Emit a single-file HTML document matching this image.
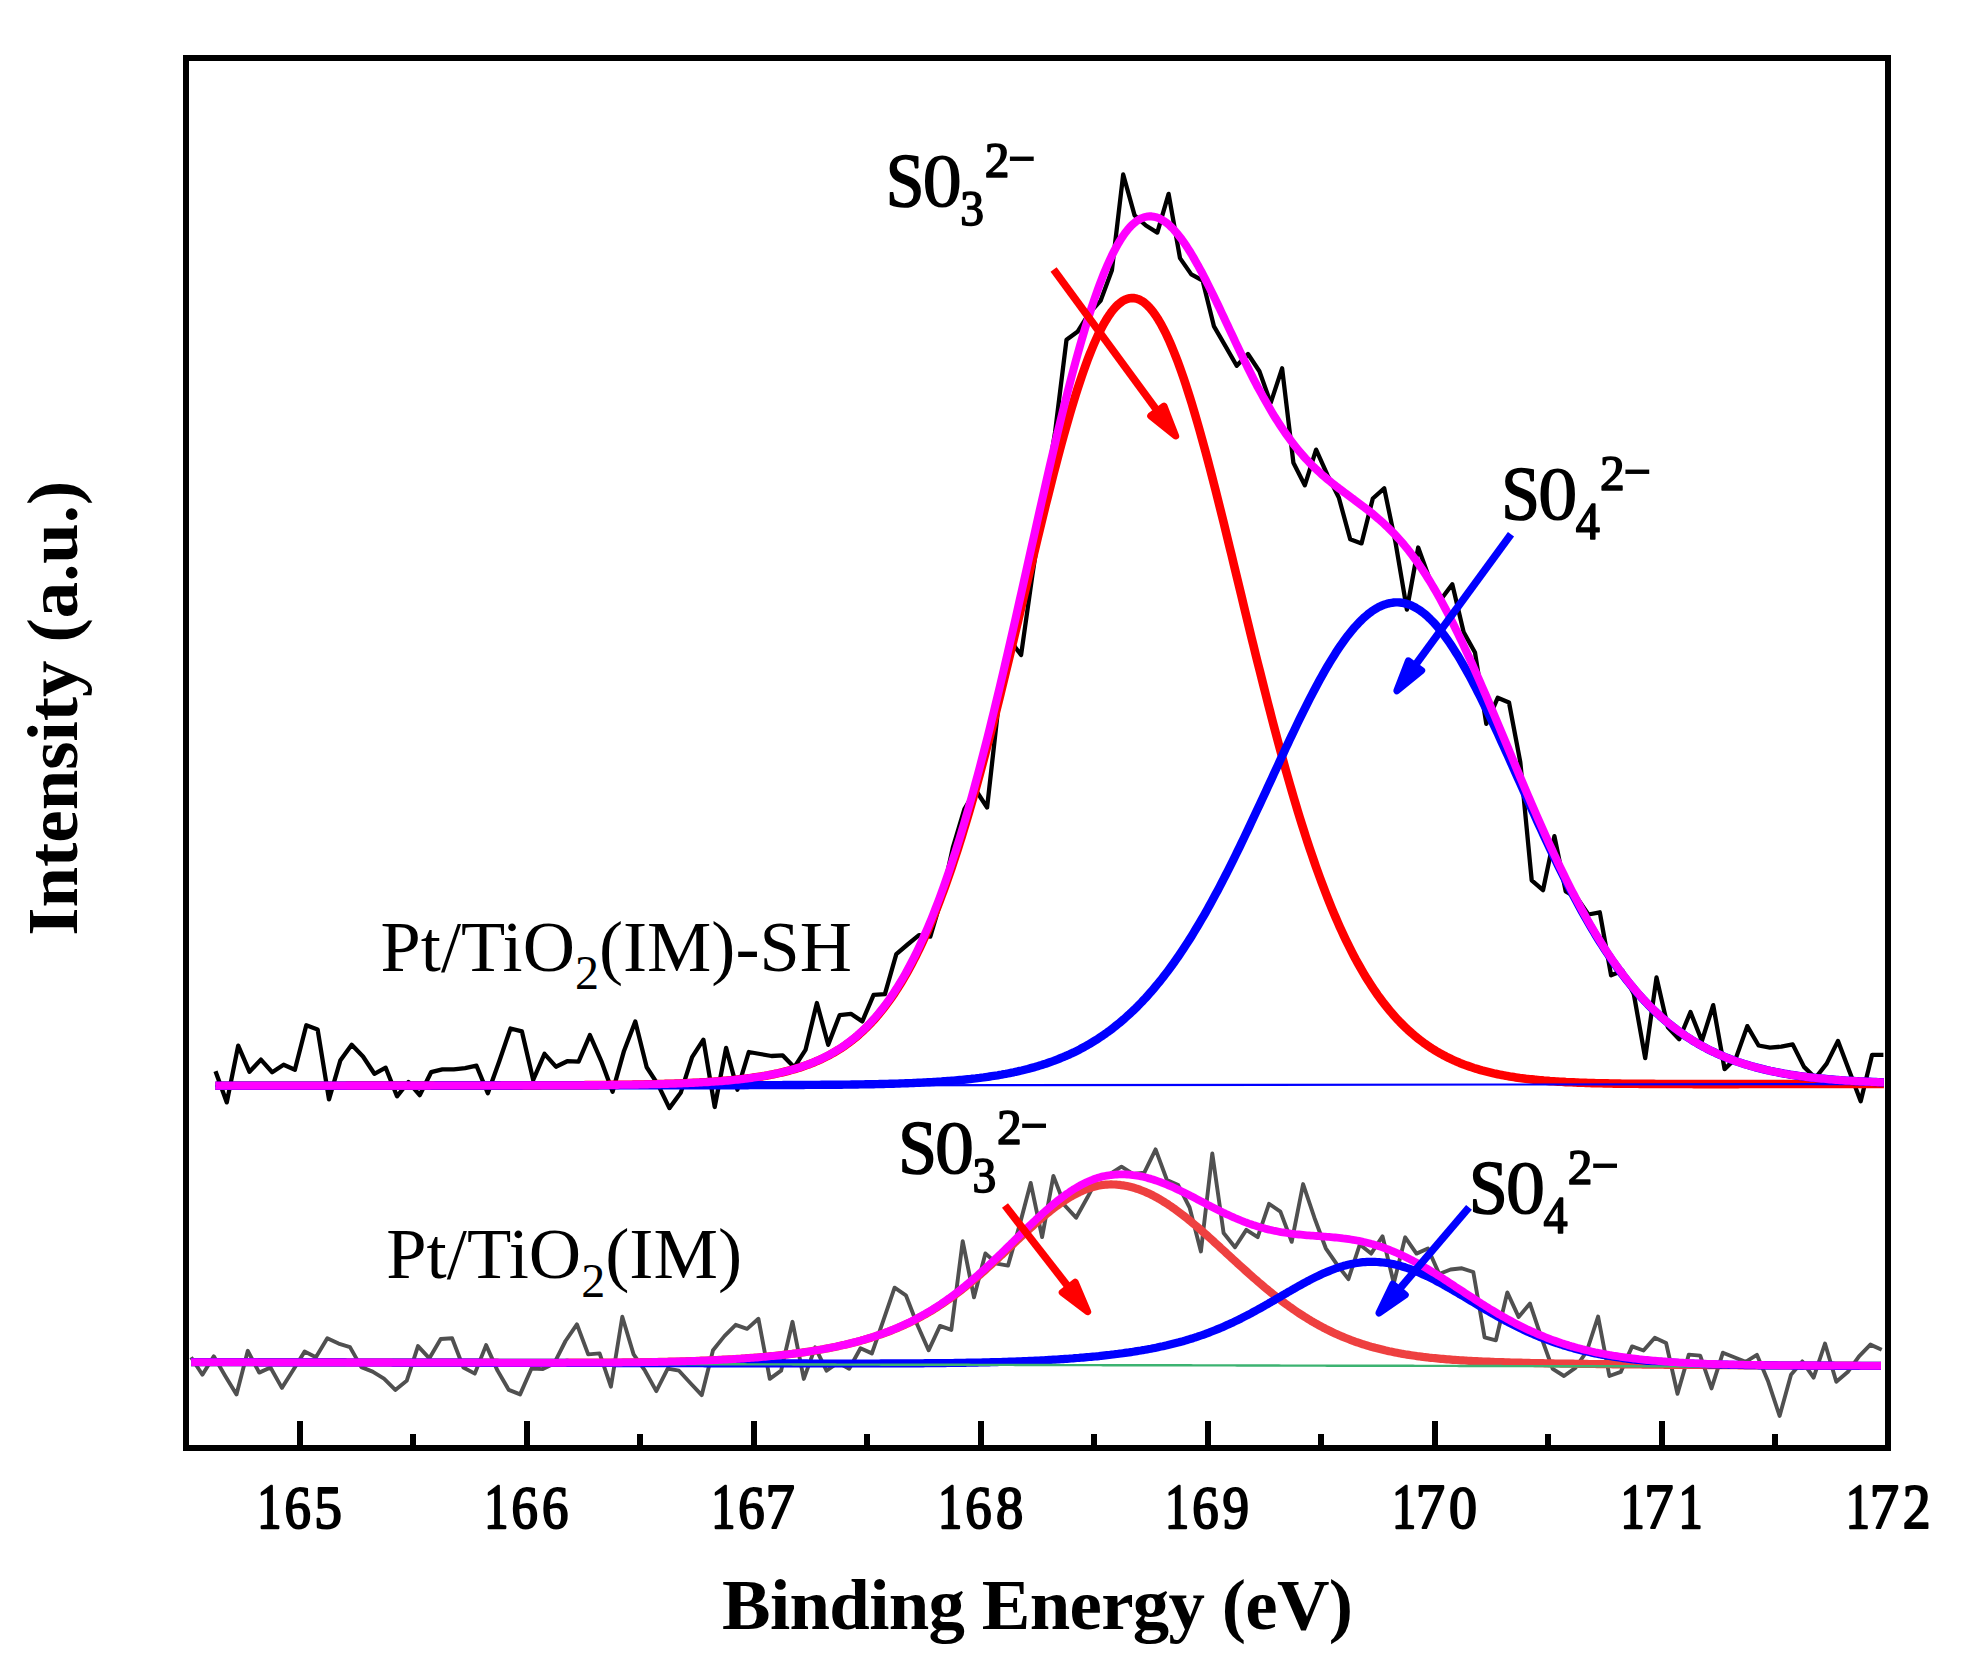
<!DOCTYPE html>
<html lang="en"><head><meta charset="utf-8"><title>XPS S 2p spectra</title>
<style>html,body{margin:0;padding:0;background:#fff}svg{display:block}</style></head>
<body>
<svg width="1961" height="1675" viewBox="0 0 1961 1675">
<rect width="1961" height="1675" fill="#fff"/>
<g fill="none" stroke-linejoin="round" stroke-linecap="butt">
<polyline points="215.5,1071.2 226.8,1102.4 238.2,1045.7 249.5,1071.8 260.9,1059.6 272.2,1072.2 283.6,1064.7 294.9,1069.8 306.3,1025.3 317.6,1029.4 329.0,1099.3 340.3,1060.6 351.7,1044.7 363.0,1056.5 374.4,1073.8 385.7,1067.7 397.0,1096.3 408.4,1082.0 419.7,1095.2 431.1,1072.2 442.4,1069.3 453.8,1069.3 465.1,1068.1 476.5,1065.7 487.8,1093.2 499.2,1061.6 510.5,1028.5 521.9,1031.4 533.2,1079.9 544.5,1053.8 555.9,1066.7 567.2,1061.2 578.6,1061.6 589.9,1035.1 601.3,1061.1 612.6,1091.7 624.0,1050.9 635.3,1021.4 646.7,1067.3 658.0,1084.6 669.4,1108.1 680.7,1092.8 692.1,1057.1 703.4,1039.7 714.7,1107.0 726.1,1047.9 737.4,1089.7 748.8,1052.0 760.1,1054.0 771.5,1056.0 782.8,1055.4 794.2,1067.3 805.5,1049.9 816.9,1003.0 828.2,1044.8 839.6,1015.2 850.9,1013.8 862.3,1021.4 873.6,994.8 884.9,994.2 896.3,954.1 907.6,944.5 919.0,935.1 930.3,936.7 941.7,898.0 953.0,847.0 964.4,809.0 975.7,790.0 987.1,807.5 998.4,706.6 1009.8,640.0 1021.1,655.0 1032.4,575.0 1043.8,500.0 1055.1,432.0 1066.5,339.7 1077.8,331.5 1089.2,313.2 1100.5,300.9 1111.9,270.3 1123.2,174.5 1134.6,215.3 1145.9,225.5 1157.3,232.6 1168.6,193.9 1180.0,258.1 1191.3,274.4 1202.6,280.5 1214.0,326.4 1225.3,345.8 1236.7,365.8 1248.0,354.0 1259.4,371.3 1270.7,402.9 1282.1,368.3 1293.4,462.8 1304.8,485.3 1316.1,449.6 1327.5,475.1 1338.8,497.5 1350.2,539.3 1361.5,543.4 1372.8,498.5 1384.2,488.3 1395.5,542.4 1406.9,609.7 1418.2,547.5 1429.6,579.1 1440.9,599.5 1452.3,584.2 1463.6,632.1 1475.0,652.5 1486.3,723.9 1497.7,697.8 1509.0,702.5 1520.3,762.1 1531.7,880.3 1543.0,890.2 1554.4,836.1 1565.7,891.3 1577.1,897.9 1588.4,914.5 1599.8,912.3 1611.1,975.3 1622.5,970.8 1633.8,994.0 1645.2,1058.1 1656.5,977.5 1667.9,1027.2 1679.2,1039.3 1690.5,1012.1 1701.9,1040.9 1713.2,1005.1 1724.6,1069.1 1735.9,1058.1 1747.3,1026.1 1758.6,1045.5 1770.0,1047.7 1781.3,1046.6 1792.7,1044.4 1804.0,1066.9 1815.4,1078.0 1826.7,1063.6 1838.0,1040.9 1849.4,1071.3 1860.7,1101.2 1872.1,1054.8 1883.4,1054.8" stroke="#000" stroke-width="4.3" stroke-linejoin="round"/>
<polyline points="215.5,1085.8 217.5,1085.8 219.5,1085.8 221.5,1085.8 223.5,1085.8 225.5,1085.8 227.5,1085.8 229.5,1085.8 231.5,1085.8 233.5,1085.8 235.5,1085.8 237.5,1085.8 239.5,1085.8 241.5,1085.8 243.5,1085.8 245.5,1085.8 247.5,1085.8 249.5,1085.8 251.5,1085.8 253.5,1085.8 255.5,1085.8 257.5,1085.8 259.5,1085.7 261.5,1085.7 263.5,1085.7 265.5,1085.7 267.5,1085.7 269.5,1085.7 271.5,1085.7 273.5,1085.7 275.5,1085.7 277.5,1085.7 279.5,1085.7 281.5,1085.7 283.5,1085.7 285.5,1085.7 287.5,1085.7 289.5,1085.7 291.5,1085.7 293.5,1085.7 295.5,1085.7 297.5,1085.7 299.5,1085.7 301.5,1085.7 303.5,1085.7 305.5,1085.7 307.5,1085.7 309.5,1085.7 311.5,1085.7 313.5,1085.7 315.5,1085.7 317.5,1085.7 319.5,1085.7 321.5,1085.7 323.5,1085.7 325.5,1085.7 327.5,1085.7 329.5,1085.7 331.5,1085.7 333.5,1085.7 335.5,1085.7 337.5,1085.7 339.5,1085.7 341.5,1085.7 343.5,1085.7 345.5,1085.7 347.5,1085.6 349.5,1085.6 351.5,1085.6 353.5,1085.6 355.5,1085.6 357.5,1085.6 359.5,1085.6 361.5,1085.6 363.5,1085.6 365.5,1085.6 367.5,1085.6 369.5,1085.6 371.5,1085.6 373.5,1085.6 375.5,1085.6 377.5,1085.6 379.5,1085.6 381.5,1085.6 383.5,1085.6 385.5,1085.6 387.5,1085.6 389.5,1085.6 391.5,1085.6 393.5,1085.6 395.5,1085.6 397.5,1085.6 399.5,1085.6 401.5,1085.6 403.5,1085.6 405.5,1085.6 407.5,1085.6 409.5,1085.6 411.5,1085.6 413.5,1085.6 415.5,1085.6 417.5,1085.6 419.5,1085.6 421.5,1085.6 423.5,1085.6 425.6,1085.6 427.6,1085.6 429.6,1085.6 431.6,1085.5 433.6,1085.5 435.6,1085.5 437.6,1085.5 439.6,1085.5 441.6,1085.5 443.6,1085.5 445.6,1085.5 447.6,1085.5 449.6,1085.5 451.6,1085.5 453.6,1085.5 455.6,1085.5 457.6,1085.5 459.6,1085.5 461.6,1085.5 463.6,1085.5 465.6,1085.5 467.6,1085.5 469.6,1085.5 471.6,1085.5 473.6,1085.5 475.6,1085.5 477.6,1085.5 479.6,1085.5 481.6,1085.5 483.6,1085.5 485.6,1085.5 487.6,1085.5 489.6,1085.5 491.6,1085.5 493.6,1085.5 495.6,1085.5 497.6,1085.5 499.6,1085.5 501.6,1085.4 503.6,1085.4 505.6,1085.4 507.6,1085.4 509.6,1085.4 511.6,1085.4 513.6,1085.4 515.6,1085.4 517.6,1085.4 519.6,1085.4 521.6,1085.4 523.6,1085.4 525.6,1085.4 527.6,1085.4 529.6,1085.4 531.6,1085.4 533.6,1085.4 535.6,1085.4 537.6,1085.4 539.6,1085.4 541.6,1085.3 543.6,1085.3 545.6,1085.3 547.6,1085.3 549.6,1085.3 551.6,1085.3 553.6,1085.3 555.6,1085.3 557.6,1085.3 559.6,1085.3 561.6,1085.3 563.6,1085.3 565.6,1085.3 567.6,1085.2 569.6,1085.2 571.6,1085.2 573.6,1085.2 575.6,1085.2 577.6,1085.2 579.6,1085.2 581.6,1085.2 583.6,1085.2 585.6,1085.1 587.6,1085.1 589.6,1085.1 591.6,1085.1 593.6,1085.1 595.6,1085.1 597.6,1085.1 599.6,1085.0 601.6,1085.0 603.6,1085.0 605.6,1085.0 607.6,1085.0 609.6,1084.9 611.6,1084.9 613.6,1084.9 615.6,1084.9 617.6,1084.9 619.6,1084.8 621.6,1084.8 623.6,1084.8 625.6,1084.8 627.6,1084.7 629.6,1084.7 631.6,1084.7 633.6,1084.6 635.6,1084.6 637.6,1084.6 639.6,1084.5 641.6,1084.5 643.6,1084.5 645.6,1084.4 647.6,1084.4 649.6,1084.3 651.6,1084.3 653.6,1084.2 655.6,1084.2 657.6,1084.1 659.6,1084.1 661.6,1084.0 663.6,1084.0 665.6,1083.9 667.6,1083.9 669.6,1083.8 671.6,1083.7 673.6,1083.7 675.6,1083.6 677.6,1083.5 679.6,1083.5 681.6,1083.4 683.6,1083.3 685.6,1083.2 687.6,1083.1 689.6,1083.0 691.6,1083.0 693.6,1082.9 695.6,1082.8 697.6,1082.7 699.6,1082.6 701.6,1082.4 703.6,1082.3 705.6,1082.2 707.6,1082.1 709.6,1082.0 711.6,1081.8 713.6,1081.7 715.6,1081.5 717.6,1081.4 719.6,1081.2 721.6,1081.1 723.6,1080.9 725.6,1080.8 727.6,1080.6 729.6,1080.4 731.6,1080.2 733.6,1080.0 735.6,1079.8 737.6,1079.6 739.6,1079.4 741.6,1079.2 743.6,1078.9 745.6,1078.7 747.6,1078.4 749.6,1078.2 751.6,1077.9 753.6,1077.6 755.6,1077.3 757.6,1077.0 759.6,1076.7 761.6,1076.4 763.6,1076.1 765.6,1075.7 767.6,1075.4 769.6,1075.0 771.6,1074.6 773.6,1074.2 775.6,1073.8 777.6,1073.4 779.6,1072.9 781.6,1072.5 783.6,1072.0 785.6,1071.5 787.6,1071.0 789.6,1070.5 791.6,1069.9 793.6,1069.4 795.6,1068.8 797.6,1068.2 799.6,1067.6 801.6,1066.9 803.6,1066.2 805.6,1065.5 807.6,1064.8 809.6,1064.1 811.6,1063.3 813.6,1062.5 815.6,1061.6 817.6,1060.8 819.6,1059.9 821.6,1059.0 823.6,1058.0 825.6,1057.0 827.6,1056.0 829.6,1054.9 831.6,1053.8 833.6,1052.7 835.6,1051.5 837.6,1050.3 839.6,1049.1 841.7,1047.8 843.7,1046.4 845.7,1045.0 847.7,1043.6 849.7,1042.1 851.7,1040.6 853.7,1039.0 855.7,1037.4 857.7,1035.7 859.7,1033.9 861.7,1032.1 863.7,1030.3 865.7,1028.3 867.7,1026.4 869.7,1024.3 871.7,1022.2 873.7,1020.0 875.7,1017.8 877.7,1015.5 879.7,1013.1 881.7,1010.6 883.7,1008.1 885.7,1005.5 887.7,1002.8 889.7,1000.0 891.7,997.2 893.7,994.3 895.7,991.2 897.7,988.1 899.7,985.0 901.7,981.7 903.7,978.3 905.7,974.9 907.7,971.3 909.7,967.7 911.7,963.9 913.7,960.1 915.7,956.2 917.7,952.1 919.7,948.0 921.7,943.8 923.7,939.4 925.7,935.0 927.7,930.5 929.7,925.8 931.7,921.0 933.7,916.2 935.7,911.2 937.7,906.1 939.7,900.9 941.7,895.6 943.7,890.2 945.7,884.7 947.7,879.1 949.7,873.3 951.7,867.5 953.7,861.5 955.7,855.4 957.7,849.3 959.7,843.0 961.7,836.6 963.7,830.1 965.7,823.5 967.7,816.8 969.7,810.0 971.7,803.1 973.7,796.1 975.7,789.0 977.7,781.8 979.7,774.5 981.7,767.1 983.7,759.7 985.7,752.1 987.7,744.5 989.7,736.8 991.7,729.0 993.7,721.1 995.7,713.2 997.7,705.2 999.7,697.1 1001.7,689.0 1003.7,680.8 1005.7,672.6 1007.7,664.3 1009.7,656.0 1011.7,647.6 1013.7,639.2 1015.7,630.8 1017.7,622.4 1019.7,613.9 1021.7,605.5 1023.7,597.0 1025.7,588.5 1027.7,580.1 1029.7,571.6 1031.7,563.2 1033.7,554.8 1035.7,546.4 1037.7,538.1 1039.7,529.7 1041.7,521.5 1043.7,513.3 1045.7,505.1 1047.7,497.1 1049.7,489.1 1051.7,481.1 1053.7,473.3 1055.7,465.6 1057.7,457.9 1059.7,450.4 1061.7,443.0 1063.7,435.7 1065.7,428.5 1067.7,421.5 1069.7,414.5 1071.7,407.8 1073.7,401.2 1075.7,394.7 1077.7,388.4 1079.7,382.3 1081.7,376.4 1083.7,370.6 1085.7,365.0 1087.7,359.6 1089.7,354.4 1091.7,349.5 1093.7,344.7 1095.7,340.1 1097.7,335.7 1099.7,331.6 1101.7,327.7 1103.7,324.0 1105.7,320.6 1107.7,317.4 1109.7,314.4 1111.7,311.6 1113.7,309.1 1115.7,306.9 1117.7,304.9 1119.7,303.2 1121.7,301.7 1123.7,300.4 1125.7,299.5 1127.7,298.7 1129.7,298.3 1131.7,298.1 1133.7,298.1 1135.7,298.4 1137.7,299.0 1139.7,299.8 1141.7,300.9 1143.7,302.2 1145.7,303.8 1147.7,305.7 1149.7,307.8 1151.7,310.1 1153.7,312.7 1155.7,315.5 1157.7,318.6 1159.7,321.9 1161.7,325.4 1163.7,329.2 1165.7,333.2 1167.7,337.4 1169.7,341.8 1171.7,346.5 1173.7,351.3 1175.7,356.3 1177.7,361.6 1179.7,367.0 1181.7,372.6 1183.7,378.4 1185.7,384.4 1187.7,390.6 1189.7,396.9 1191.7,403.3 1193.7,410.0 1195.7,416.7 1197.7,423.6 1199.7,430.6 1201.7,437.8 1203.7,445.1 1205.7,452.4 1207.7,459.9 1209.7,467.5 1211.7,475.2 1213.7,483.0 1215.7,490.8 1217.7,498.7 1219.7,506.7 1221.7,514.8 1223.7,522.8 1225.7,531.0 1227.7,539.2 1229.7,547.4 1231.7,555.6 1233.7,563.9 1235.7,572.2 1237.7,580.5 1239.7,588.8 1241.7,597.1 1243.7,605.4 1245.7,613.7 1247.7,621.9 1249.7,630.2 1251.7,638.4 1253.7,646.6 1255.7,654.7 1257.7,662.8 1259.8,670.9 1261.8,678.9 1263.8,686.9 1265.8,694.8 1267.8,702.7 1269.8,710.4 1271.8,718.2 1273.8,725.8 1275.8,733.4 1277.8,740.9 1279.8,748.3 1281.8,755.6 1283.8,762.9 1285.8,770.1 1287.8,777.2 1289.8,784.1 1291.8,791.0 1293.8,797.9 1295.8,804.6 1297.8,811.2 1299.8,817.7 1301.8,824.1 1303.8,830.4 1305.8,836.7 1307.8,842.8 1309.8,848.8 1311.8,854.7 1313.8,860.5 1315.8,866.3 1317.8,871.9 1319.8,877.4 1321.8,882.8 1323.8,888.1 1325.8,893.3 1327.8,898.4 1329.8,903.4 1331.8,908.3 1333.8,913.1 1335.8,917.8 1337.8,922.4 1339.8,926.9 1341.8,931.3 1343.8,935.6 1345.8,939.8 1347.8,943.9 1349.8,947.9 1351.8,951.9 1353.8,955.7 1355.8,959.5 1357.8,963.1 1359.8,966.7 1361.8,970.2 1363.8,973.6 1365.8,976.9 1367.8,980.1 1369.8,983.3 1371.8,986.4 1373.8,989.4 1375.8,992.3 1377.8,995.2 1379.8,997.9 1381.8,1000.6 1383.8,1003.3 1385.8,1005.8 1387.8,1008.3 1389.8,1010.7 1391.8,1013.1 1393.8,1015.4 1395.8,1017.6 1397.8,1019.8 1399.8,1021.9 1401.8,1023.9 1403.8,1025.9 1405.8,1027.8 1407.8,1029.7 1409.8,1031.5 1411.8,1033.3 1413.8,1035.0 1415.8,1036.7 1417.8,1038.3 1419.8,1039.9 1421.8,1041.4 1423.8,1042.9 1425.8,1044.3 1427.8,1045.7 1429.8,1047.1 1431.8,1048.4 1433.8,1049.6 1435.8,1050.9 1437.8,1052.1 1439.8,1053.2 1441.8,1054.3 1443.8,1055.4 1445.8,1056.4 1447.8,1057.5 1449.8,1058.4 1451.8,1059.4 1453.8,1060.3 1455.8,1061.2 1457.8,1062.0 1459.8,1062.9 1461.8,1063.7 1463.8,1064.5 1465.8,1065.2 1467.8,1065.9 1469.8,1066.6 1471.8,1067.3 1473.8,1068.0 1475.8,1068.6 1477.8,1069.2 1479.8,1069.8 1481.8,1070.4 1483.8,1070.9 1485.8,1071.4 1487.8,1071.9 1489.8,1072.4 1491.8,1072.9 1493.8,1073.4 1495.8,1073.8 1497.8,1074.2 1499.8,1074.6 1501.8,1075.0 1503.8,1075.4 1505.8,1075.8 1507.8,1076.1 1509.8,1076.5 1511.8,1076.8 1513.8,1077.1 1515.8,1077.4 1517.8,1077.7 1519.8,1078.0 1521.8,1078.2 1523.8,1078.5 1525.8,1078.8 1527.8,1079.0 1529.8,1079.2 1531.8,1079.4 1533.8,1079.6 1535.8,1079.9 1537.8,1080.0 1539.8,1080.2 1541.8,1080.4 1543.8,1080.6 1545.8,1080.7 1547.8,1080.9 1549.8,1081.1 1551.8,1081.2 1553.8,1081.3 1555.8,1081.5 1557.8,1081.6 1559.8,1081.7 1561.8,1081.8 1563.8,1081.9 1565.8,1082.1 1567.8,1082.2 1569.8,1082.3 1571.8,1082.3 1573.8,1082.4 1575.8,1082.5 1577.8,1082.6 1579.8,1082.7 1581.8,1082.8 1583.8,1082.8 1585.8,1082.9 1587.8,1083.0 1589.8,1083.0 1591.8,1083.1 1593.8,1083.1 1595.8,1083.2 1597.8,1083.2 1599.8,1083.3 1601.8,1083.3 1603.8,1083.4 1605.8,1083.4 1607.8,1083.4 1609.8,1083.5 1611.8,1083.5 1613.8,1083.6 1615.8,1083.6 1617.8,1083.6 1619.8,1083.6 1621.8,1083.7 1623.8,1083.7 1625.8,1083.7 1627.8,1083.7 1629.8,1083.8 1631.8,1083.8 1633.8,1083.8 1635.8,1083.8 1637.8,1083.8 1639.8,1083.9 1641.8,1083.9 1643.8,1083.9 1645.8,1083.9 1647.8,1083.9 1649.8,1083.9 1651.8,1083.9 1653.8,1083.9 1655.8,1084.0 1657.8,1084.0 1659.8,1084.0 1661.8,1084.0 1663.8,1084.0 1665.8,1084.0 1667.8,1084.0 1669.8,1084.0 1671.8,1084.0 1673.8,1084.0 1675.9,1084.0 1677.9,1084.0 1679.9,1084.0 1681.9,1084.0 1683.9,1084.0 1685.9,1084.0 1687.9,1084.0 1689.9,1084.0 1691.9,1084.0 1693.9,1084.1 1695.9,1084.1 1697.9,1084.1 1699.9,1084.1 1701.9,1084.1 1703.9,1084.1 1705.9,1084.1 1707.9,1084.1 1709.9,1084.1 1711.9,1084.1 1713.9,1084.1 1715.9,1084.1 1717.9,1084.1 1719.9,1084.1 1721.9,1084.1 1723.9,1084.1 1725.9,1084.1 1727.9,1084.1 1729.9,1084.1 1731.9,1084.1 1733.9,1084.1 1735.9,1084.1 1737.9,1084.1 1739.9,1084.0 1741.9,1084.0 1743.9,1084.0 1745.9,1084.0 1747.9,1084.0 1749.9,1084.0 1751.9,1084.0 1753.9,1084.0 1755.9,1084.0 1757.9,1084.0 1759.9,1084.0 1761.9,1084.0 1763.9,1084.0 1765.9,1084.0 1767.9,1084.0 1769.9,1084.0 1771.9,1084.0 1773.9,1084.0 1775.9,1084.0 1777.9,1084.0 1779.9,1084.0 1781.9,1084.0 1783.9,1084.0 1785.9,1084.0 1787.9,1084.0 1789.9,1084.0 1791.9,1084.0 1793.9,1084.0 1795.9,1084.0 1797.9,1084.0 1799.9,1084.0 1801.9,1084.0 1803.9,1084.0 1805.9,1084.0 1807.9,1084.0 1809.9,1084.0 1811.9,1084.0 1813.9,1084.0 1815.9,1084.0 1817.9,1084.0 1819.9,1084.0 1821.9,1084.0 1823.9,1084.0 1825.9,1084.0 1827.9,1084.0 1829.9,1084.0 1831.9,1084.0 1833.9,1084.0 1835.9,1084.0 1837.9,1084.0 1839.9,1083.9 1841.9,1083.9 1843.9,1083.9 1845.9,1083.9 1847.9,1083.9 1849.9,1083.9 1851.9,1083.9 1853.9,1083.9 1855.9,1083.9 1857.9,1083.9 1859.9,1083.9 1861.9,1083.9 1863.9,1083.9 1865.9,1083.9 1867.9,1083.9 1869.9,1083.9 1871.9,1083.9 1873.9,1083.9 1875.9,1083.9 1877.9,1083.9 1879.9,1083.9 1881.9,1083.9 1883.9,1083.9" stroke="#f00" stroke-width="8.6"/>
<polyline points="215.5,1085.8 217.5,1085.8 219.5,1085.8 221.5,1085.8 223.5,1085.8 225.5,1085.8 227.5,1085.8 229.5,1085.8 231.5,1085.8 233.5,1085.8 235.5,1085.8 237.5,1085.8 239.5,1085.8 241.5,1085.8 243.5,1085.8 245.5,1085.8 247.5,1085.8 249.5,1085.8 251.5,1085.8 253.5,1085.8 255.5,1085.8 257.5,1085.8 259.5,1085.7 261.5,1085.7 263.5,1085.7 265.5,1085.7 267.5,1085.7 269.5,1085.7 271.5,1085.7 273.5,1085.7 275.5,1085.7 277.5,1085.7 279.5,1085.7 281.5,1085.7 283.5,1085.7 285.5,1085.7 287.5,1085.7 289.5,1085.7 291.5,1085.7 293.5,1085.7 295.5,1085.7 297.5,1085.7 299.5,1085.7 301.5,1085.7 303.5,1085.7 305.5,1085.7 307.5,1085.7 309.5,1085.7 311.5,1085.7 313.5,1085.7 315.5,1085.7 317.5,1085.7 319.5,1085.7 321.5,1085.7 323.5,1085.7 325.5,1085.7 327.5,1085.7 329.5,1085.7 331.5,1085.7 333.5,1085.7 335.5,1085.7 337.5,1085.7 339.5,1085.7 341.5,1085.7 343.5,1085.7 345.5,1085.7 347.5,1085.6 349.5,1085.6 351.5,1085.6 353.5,1085.6 355.5,1085.6 357.5,1085.6 359.5,1085.6 361.5,1085.6 363.5,1085.6 365.5,1085.6 367.5,1085.6 369.5,1085.6 371.5,1085.6 373.5,1085.6 375.5,1085.6 377.5,1085.6 379.5,1085.6 381.5,1085.6 383.5,1085.6 385.5,1085.6 387.5,1085.6 389.5,1085.6 391.5,1085.6 393.5,1085.6 395.5,1085.6 397.5,1085.6 399.5,1085.6 401.5,1085.6 403.5,1085.6 405.5,1085.6 407.5,1085.6 409.5,1085.6 411.5,1085.6 413.5,1085.6 415.5,1085.6 417.5,1085.6 419.5,1085.6 421.5,1085.6 423.5,1085.6 425.6,1085.6 427.6,1085.6 429.6,1085.6 431.6,1085.6 433.6,1085.6 435.6,1085.5 437.6,1085.5 439.6,1085.5 441.6,1085.5 443.6,1085.5 445.6,1085.5 447.6,1085.5 449.6,1085.5 451.6,1085.5 453.6,1085.5 455.6,1085.5 457.6,1085.5 459.6,1085.5 461.6,1085.5 463.6,1085.5 465.6,1085.5 467.6,1085.5 469.6,1085.5 471.6,1085.5 473.6,1085.5 475.6,1085.5 477.6,1085.5 479.6,1085.5 481.6,1085.5 483.6,1085.5 485.6,1085.5 487.6,1085.5 489.6,1085.5 491.6,1085.5 493.6,1085.5 495.6,1085.5 497.6,1085.5 499.6,1085.5 501.6,1085.5 503.6,1085.5 505.6,1085.5 507.6,1085.5 509.6,1085.5 511.6,1085.5 513.6,1085.5 515.6,1085.5 517.6,1085.5 519.6,1085.5 521.6,1085.5 523.6,1085.4 525.6,1085.4 527.6,1085.4 529.6,1085.4 531.6,1085.4 533.6,1085.4 535.6,1085.4 537.6,1085.4 539.6,1085.4 541.6,1085.4 543.6,1085.4 545.6,1085.4 547.6,1085.4 549.6,1085.4 551.6,1085.4 553.6,1085.4 555.6,1085.4 557.6,1085.4 559.6,1085.4 561.6,1085.4 563.6,1085.4 565.6,1085.4 567.6,1085.4 569.6,1085.4 571.6,1085.4 573.6,1085.4 575.6,1085.4 577.6,1085.4 579.6,1085.4 581.6,1085.4 583.6,1085.4 585.6,1085.4 587.6,1085.4 589.6,1085.4 591.6,1085.4 593.6,1085.4 595.6,1085.4 597.6,1085.4 599.6,1085.4 601.6,1085.4 603.6,1085.4 605.6,1085.4 607.6,1085.4 609.6,1085.4 611.6,1085.3 613.6,1085.3 615.6,1085.3 617.6,1085.3 619.6,1085.3 621.6,1085.3 623.6,1085.3 625.6,1085.3 627.6,1085.3 629.6,1085.3 631.6,1085.3 633.6,1085.3 635.6,1085.3 637.6,1085.3 639.6,1085.3 641.6,1085.3 643.6,1085.3 645.6,1085.3 647.6,1085.3 649.6,1085.3 651.6,1085.3 653.6,1085.3 655.6,1085.3 657.6,1085.3 659.6,1085.3 661.6,1085.3 663.6,1085.3 665.6,1085.3 667.6,1085.3 669.6,1085.3 671.6,1085.3 673.6,1085.3 675.6,1085.3 677.6,1085.3 679.6,1085.3 681.6,1085.3 683.6,1085.3 685.6,1085.3 687.6,1085.3 689.6,1085.3 691.6,1085.2 693.6,1085.2 695.6,1085.2 697.6,1085.2 699.6,1085.2 701.6,1085.2 703.6,1085.2 705.6,1085.2 707.6,1085.2 709.6,1085.2 711.6,1085.2 713.6,1085.2 715.6,1085.2 717.6,1085.2 719.6,1085.2 721.6,1085.2 723.6,1085.2 725.6,1085.2 727.6,1085.2 729.6,1085.2 731.6,1085.2 733.6,1085.2 735.6,1085.2 737.6,1085.2 739.6,1085.2 741.6,1085.2 743.6,1085.2 745.6,1085.2 747.6,1085.2 749.6,1085.1 751.6,1085.1 753.6,1085.1 755.6,1085.1 757.6,1085.1 759.6,1085.1 761.6,1085.1 763.6,1085.1 765.6,1085.1 767.6,1085.1 769.6,1085.1 771.6,1085.1 773.6,1085.1 775.6,1085.1 777.6,1085.1 779.6,1085.1 781.6,1085.1 783.6,1085.0 785.6,1085.0 787.6,1085.0 789.6,1085.0 791.6,1085.0 793.6,1085.0 795.6,1085.0 797.6,1085.0 799.6,1085.0 801.6,1085.0 803.6,1085.0 805.6,1084.9 807.6,1084.9 809.6,1084.9 811.6,1084.9 813.6,1084.9 815.6,1084.9 817.6,1084.9 819.6,1084.9 821.6,1084.8 823.6,1084.8 825.6,1084.8 827.6,1084.8 829.6,1084.8 831.6,1084.8 833.6,1084.7 835.6,1084.7 837.6,1084.7 839.6,1084.7 841.7,1084.7 843.7,1084.6 845.7,1084.6 847.7,1084.6 849.7,1084.6 851.7,1084.5 853.7,1084.5 855.7,1084.5 857.7,1084.5 859.7,1084.4 861.7,1084.4 863.7,1084.4 865.7,1084.3 867.7,1084.3 869.7,1084.3 871.7,1084.2 873.7,1084.2 875.7,1084.1 877.7,1084.1 879.7,1084.0 881.7,1084.0 883.7,1084.0 885.7,1083.9 887.7,1083.9 889.7,1083.8 891.7,1083.7 893.7,1083.7 895.7,1083.6 897.7,1083.6 899.7,1083.5 901.7,1083.4 903.7,1083.4 905.7,1083.3 907.7,1083.2 909.7,1083.1 911.7,1083.1 913.7,1083.0 915.7,1082.9 917.7,1082.8 919.7,1082.7 921.7,1082.6 923.7,1082.5 925.7,1082.4 927.7,1082.3 929.7,1082.2 931.7,1082.1 933.7,1082.0 935.7,1081.9 937.7,1081.7 939.7,1081.6 941.7,1081.5 943.7,1081.3 945.7,1081.2 947.7,1081.0 949.7,1080.9 951.7,1080.7 953.7,1080.6 955.7,1080.4 957.7,1080.2 959.7,1080.0 961.7,1079.9 963.7,1079.7 965.7,1079.5 967.7,1079.3 969.7,1079.1 971.7,1078.8 973.7,1078.6 975.7,1078.4 977.7,1078.1 979.7,1077.9 981.7,1077.6 983.7,1077.4 985.7,1077.1 987.7,1076.8 989.7,1076.5 991.7,1076.2 993.7,1075.9 995.7,1075.6 997.7,1075.3 999.7,1074.9 1001.7,1074.6 1003.7,1074.2 1005.7,1073.9 1007.7,1073.5 1009.7,1073.1 1011.7,1072.7 1013.7,1072.3 1015.7,1071.8 1017.7,1071.4 1019.7,1070.9 1021.7,1070.5 1023.7,1070.0 1025.7,1069.5 1027.7,1069.0 1029.7,1068.4 1031.7,1067.9 1033.7,1067.4 1035.7,1066.8 1037.7,1066.2 1039.7,1065.6 1041.7,1065.0 1043.7,1064.3 1045.7,1063.7 1047.7,1063.0 1049.7,1062.3 1051.7,1061.6 1053.7,1060.9 1055.7,1060.1 1057.7,1059.3 1059.7,1058.5 1061.7,1057.7 1063.7,1056.9 1065.7,1056.0 1067.7,1055.2 1069.7,1054.3 1071.7,1053.3 1073.7,1052.4 1075.7,1051.4 1077.7,1050.4 1079.7,1049.4 1081.7,1048.3 1083.7,1047.2 1085.7,1046.1 1087.7,1045.0 1089.7,1043.8 1091.7,1042.6 1093.7,1041.4 1095.7,1040.2 1097.7,1038.9 1099.7,1037.6 1101.7,1036.3 1103.7,1034.9 1105.7,1033.5 1107.7,1032.0 1109.7,1030.6 1111.7,1029.1 1113.7,1027.5 1115.7,1025.9 1117.7,1024.3 1119.7,1022.7 1121.7,1021.0 1123.7,1019.3 1125.7,1017.5 1127.7,1015.7 1129.7,1013.9 1131.7,1012.0 1133.7,1010.1 1135.7,1008.2 1137.7,1006.2 1139.7,1004.1 1141.7,1002.1 1143.7,999.9 1145.7,997.8 1147.7,995.6 1149.7,993.3 1151.7,991.1 1153.7,988.7 1155.7,986.3 1157.7,983.9 1159.7,981.5 1161.7,979.0 1163.7,976.4 1165.7,973.8 1167.7,971.2 1169.7,968.5 1171.7,965.7 1173.7,963.0 1175.7,960.1 1177.7,957.3 1179.7,954.3 1181.7,951.4 1183.7,948.4 1185.7,945.3 1187.7,942.2 1189.7,939.1 1191.7,935.9 1193.7,932.6 1195.7,929.3 1197.7,926.0 1199.7,922.6 1201.7,919.2 1203.7,915.8 1205.7,912.3 1207.7,908.7 1209.7,905.1 1211.7,901.5 1213.7,897.8 1215.7,894.1 1217.7,890.4 1219.7,886.6 1221.7,882.8 1223.7,878.9 1225.7,875.0 1227.7,871.1 1229.7,867.1 1231.7,863.1 1233.7,859.1 1235.7,855.0 1237.7,850.9 1239.7,846.8 1241.7,842.7 1243.7,838.5 1245.7,834.3 1247.7,830.1 1249.7,825.9 1251.7,821.6 1253.7,817.3 1255.7,813.0 1257.7,808.7 1259.8,804.4 1261.8,800.1 1263.8,795.8 1265.8,791.4 1267.8,787.1 1269.8,782.7 1271.8,778.4 1273.8,774.1 1275.8,769.7 1277.8,765.4 1279.8,761.1 1281.8,756.7 1283.8,752.4 1285.8,748.1 1287.8,743.9 1289.8,739.6 1291.8,735.4 1293.8,731.2 1295.8,727.0 1297.8,722.8 1299.8,718.7 1301.8,714.6 1303.8,710.6 1305.8,706.6 1307.8,702.6 1309.8,698.7 1311.8,694.8 1313.8,691.0 1315.8,687.2 1317.8,683.5 1319.8,679.8 1321.8,676.2 1323.8,672.6 1325.8,669.2 1327.8,665.7 1329.8,662.4 1331.8,659.1 1333.8,655.9 1335.8,652.7 1337.8,649.7 1339.8,646.7 1341.8,643.8 1343.8,641.0 1345.8,638.3 1347.8,635.6 1349.8,633.1 1351.8,630.6 1353.8,628.2 1355.8,626.0 1357.8,623.8 1359.8,621.7 1361.8,619.7 1363.8,617.8 1365.8,616.1 1367.8,614.4 1369.8,612.8 1371.8,611.3 1373.8,610.0 1375.8,608.7 1377.8,607.6 1379.8,606.6 1381.8,605.7 1383.8,604.8 1385.8,604.2 1387.8,603.6 1389.8,603.1 1391.8,602.8 1393.8,602.5 1395.8,602.4 1397.8,602.4 1399.8,602.5 1401.8,602.7 1403.8,603.1 1405.8,603.6 1407.8,604.2 1409.8,604.9 1411.8,605.7 1413.8,606.7 1415.8,607.8 1417.8,609.0 1419.8,610.3 1421.8,611.7 1423.8,613.3 1425.8,614.9 1427.8,616.7 1429.8,618.6 1431.8,620.6 1433.8,622.7 1435.8,624.9 1437.8,627.2 1439.8,629.6 1441.8,632.1 1443.8,634.7 1445.8,637.5 1447.8,640.3 1449.8,643.1 1451.8,646.1 1453.8,649.2 1455.8,652.4 1457.8,655.6 1459.8,658.9 1461.8,662.3 1463.8,665.8 1465.8,669.3 1467.8,672.9 1469.8,676.6 1471.8,680.4 1473.8,684.2 1475.8,688.0 1477.8,692.0 1479.8,695.9 1481.8,700.0 1483.8,704.0 1485.8,708.1 1487.8,712.3 1489.8,716.5 1491.8,720.7 1493.8,725.0 1495.8,729.3 1497.8,733.6 1499.8,738.0 1501.8,742.4 1503.8,746.8 1505.8,751.2 1507.8,755.6 1509.8,760.1 1511.8,764.5 1513.8,769.0 1515.8,773.5 1517.8,777.9 1519.8,782.4 1521.8,786.9 1523.8,791.4 1525.8,795.8 1527.8,800.3 1529.8,804.7 1531.8,809.2 1533.8,813.6 1535.8,818.0 1537.8,822.4 1539.8,826.7 1541.8,831.1 1543.8,835.4 1545.8,839.7 1547.8,843.9 1549.8,848.2 1551.8,852.4 1553.8,856.6 1555.8,860.7 1557.8,864.8 1559.8,868.9 1561.8,872.9 1563.8,876.9 1565.8,880.9 1567.8,884.8 1569.8,888.7 1571.8,892.6 1573.8,896.4 1575.8,900.1 1577.8,903.8 1579.8,907.5 1581.8,911.1 1583.8,914.7 1585.8,918.2 1587.8,921.7 1589.8,925.2 1591.8,928.6 1593.8,931.9 1595.8,935.2 1597.8,938.5 1599.8,941.7 1601.8,944.8 1603.8,947.9 1605.8,951.0 1607.8,954.0 1609.8,956.9 1611.8,959.9 1613.8,962.7 1615.8,965.5 1617.8,968.3 1619.8,971.0 1621.8,973.7 1623.8,976.3 1625.8,978.9 1627.8,981.4 1629.8,983.9 1631.8,986.3 1633.8,988.7 1635.8,991.1 1637.8,993.4 1639.8,995.6 1641.8,997.8 1643.8,1000.0 1645.8,1002.1 1647.8,1004.2 1649.8,1006.2 1651.8,1008.2 1653.8,1010.2 1655.8,1012.1 1657.8,1013.9 1659.8,1015.8 1661.8,1017.6 1663.8,1019.3 1665.8,1021.0 1667.8,1022.7 1669.8,1024.3 1671.8,1025.9 1673.8,1027.5 1675.9,1029.0 1677.9,1030.5 1679.9,1032.0 1681.9,1033.4 1683.9,1034.8 1685.9,1036.2 1687.9,1037.5 1689.9,1038.8 1691.9,1040.1 1693.9,1041.3 1695.9,1042.5 1697.9,1043.7 1699.9,1044.8 1701.9,1046.0 1703.9,1047.1 1705.9,1048.1 1707.9,1049.2 1709.9,1050.2 1711.9,1051.2 1713.9,1052.1 1715.9,1053.1 1717.9,1054.0 1719.9,1054.9 1721.9,1055.7 1723.9,1056.6 1725.9,1057.4 1727.9,1058.2 1729.9,1059.0 1731.9,1059.7 1733.9,1060.5 1735.9,1061.2 1737.9,1061.9 1739.9,1062.6 1741.9,1063.2 1743.9,1063.9 1745.9,1064.5 1747.9,1065.1 1749.9,1065.7 1751.9,1066.3 1753.9,1066.8 1755.9,1067.4 1757.9,1067.9 1759.9,1068.4 1761.9,1068.9 1763.9,1069.4 1765.9,1069.9 1767.9,1070.3 1769.9,1070.8 1771.9,1071.2 1773.9,1071.6 1775.9,1072.0 1777.9,1072.4 1779.9,1072.8 1781.9,1073.2 1783.9,1073.6 1785.9,1073.9 1787.9,1074.2 1789.9,1074.6 1791.9,1074.9 1793.9,1075.2 1795.9,1075.5 1797.9,1075.8 1799.9,1076.1 1801.9,1076.3 1803.9,1076.6 1805.9,1076.9 1807.9,1077.1 1809.9,1077.4 1811.9,1077.6 1813.9,1077.8 1815.9,1078.0 1817.9,1078.2 1819.9,1078.4 1821.9,1078.6 1823.9,1078.8 1825.9,1079.0 1827.9,1079.2 1829.9,1079.4 1831.9,1079.5 1833.9,1079.7 1835.9,1079.9 1837.9,1080.0 1839.9,1080.1 1841.9,1080.3 1843.9,1080.4 1845.9,1080.6 1847.9,1080.7 1849.9,1080.8 1851.9,1080.9 1853.9,1081.0 1855.9,1081.1 1857.9,1081.2 1859.9,1081.4 1861.9,1081.4 1863.9,1081.5 1865.9,1081.6 1867.9,1081.7 1869.9,1081.8 1871.9,1081.9 1873.9,1082.0 1875.9,1082.0 1877.9,1082.1 1879.9,1082.2 1881.9,1082.3 1883.9,1082.3" stroke="#00f" stroke-width="8.4"/>
<polyline points="215.5,1086.0 1883.9,1084.1" stroke="#00f" stroke-width="2.2"/>
<polyline points="215.5,1085.8 217.5,1085.8 219.5,1085.8 221.5,1085.8 223.5,1085.8 225.5,1085.8 227.5,1085.8 229.5,1085.8 231.5,1085.8 233.5,1085.8 235.5,1085.8 237.5,1085.8 239.5,1085.8 241.5,1085.8 243.5,1085.8 245.5,1085.8 247.5,1085.8 249.5,1085.8 251.5,1085.8 253.5,1085.8 255.5,1085.8 257.5,1085.8 259.5,1085.7 261.5,1085.7 263.5,1085.7 265.5,1085.7 267.5,1085.7 269.5,1085.7 271.5,1085.7 273.5,1085.7 275.5,1085.7 277.5,1085.7 279.5,1085.7 281.5,1085.7 283.5,1085.7 285.5,1085.7 287.5,1085.7 289.5,1085.7 291.5,1085.7 293.5,1085.7 295.5,1085.7 297.5,1085.7 299.5,1085.7 301.5,1085.7 303.5,1085.7 305.5,1085.7 307.5,1085.7 309.5,1085.7 311.5,1085.7 313.5,1085.7 315.5,1085.7 317.5,1085.7 319.5,1085.7 321.5,1085.7 323.5,1085.7 325.5,1085.7 327.5,1085.7 329.5,1085.7 331.5,1085.7 333.5,1085.7 335.5,1085.7 337.5,1085.7 339.5,1085.7 341.5,1085.7 343.5,1085.7 345.5,1085.7 347.5,1085.6 349.5,1085.6 351.5,1085.6 353.5,1085.6 355.5,1085.6 357.5,1085.6 359.5,1085.6 361.5,1085.6 363.5,1085.6 365.5,1085.6 367.5,1085.6 369.5,1085.6 371.5,1085.6 373.5,1085.6 375.5,1085.6 377.5,1085.6 379.5,1085.6 381.5,1085.6 383.5,1085.6 385.5,1085.6 387.5,1085.6 389.5,1085.6 391.5,1085.6 393.5,1085.6 395.5,1085.6 397.5,1085.6 399.5,1085.6 401.5,1085.6 403.5,1085.6 405.5,1085.6 407.5,1085.6 409.5,1085.6 411.5,1085.6 413.5,1085.6 415.5,1085.6 417.5,1085.6 419.5,1085.6 421.5,1085.6 423.5,1085.6 425.6,1085.6 427.6,1085.6 429.6,1085.6 431.6,1085.5 433.6,1085.5 435.6,1085.5 437.6,1085.5 439.6,1085.5 441.6,1085.5 443.6,1085.5 445.6,1085.5 447.6,1085.5 449.6,1085.5 451.6,1085.5 453.6,1085.5 455.6,1085.5 457.6,1085.5 459.6,1085.5 461.6,1085.5 463.6,1085.5 465.6,1085.5 467.6,1085.5 469.6,1085.5 471.6,1085.5 473.6,1085.5 475.6,1085.5 477.6,1085.5 479.6,1085.5 481.6,1085.5 483.6,1085.5 485.6,1085.5 487.6,1085.5 489.6,1085.5 491.6,1085.5 493.6,1085.5 495.6,1085.5 497.6,1085.5 499.6,1085.5 501.6,1085.4 503.6,1085.4 505.6,1085.4 507.6,1085.4 509.6,1085.4 511.6,1085.4 513.6,1085.4 515.6,1085.4 517.6,1085.4 519.6,1085.4 521.6,1085.4 523.6,1085.4 525.6,1085.4 527.6,1085.4 529.6,1085.4 531.6,1085.4 533.6,1085.4 535.6,1085.4 537.6,1085.4 539.6,1085.4 541.6,1085.3 543.6,1085.3 545.6,1085.3 547.6,1085.3 549.6,1085.3 551.6,1085.3 553.6,1085.3 555.6,1085.3 557.6,1085.3 559.6,1085.3 561.6,1085.3 563.6,1085.3 565.6,1085.3 567.6,1085.2 569.6,1085.2 571.6,1085.2 573.6,1085.2 575.6,1085.2 577.6,1085.2 579.6,1085.2 581.6,1085.2 583.6,1085.2 585.6,1085.1 587.6,1085.1 589.6,1085.1 591.6,1085.1 593.6,1085.1 595.6,1085.1 597.6,1085.1 599.6,1085.0 601.6,1085.0 603.6,1085.0 605.6,1085.0 607.6,1085.0 609.6,1084.9 611.6,1084.9 613.6,1084.9 615.6,1084.9 617.6,1084.9 619.6,1084.8 621.6,1084.8 623.6,1084.8 625.6,1084.8 627.6,1084.7 629.6,1084.7 631.6,1084.7 633.6,1084.6 635.6,1084.6 637.6,1084.6 639.6,1084.5 641.6,1084.5 643.6,1084.5 645.6,1084.4 647.6,1084.4 649.6,1084.3 651.6,1084.3 653.6,1084.2 655.6,1084.2 657.6,1084.1 659.6,1084.1 661.6,1084.0 663.6,1084.0 665.6,1083.9 667.6,1083.9 669.6,1083.8 671.6,1083.7 673.6,1083.7 675.6,1083.6 677.6,1083.5 679.6,1083.5 681.6,1083.4 683.6,1083.3 685.6,1083.2 687.6,1083.1 689.6,1083.0 691.6,1082.9 693.6,1082.9 695.6,1082.8 697.6,1082.6 699.6,1082.5 701.6,1082.4 703.6,1082.3 705.6,1082.2 707.6,1082.1 709.6,1081.9 711.6,1081.8 713.6,1081.7 715.6,1081.5 717.6,1081.4 719.6,1081.2 721.6,1081.1 723.6,1080.9 725.6,1080.7 727.6,1080.6 729.6,1080.4 731.6,1080.2 733.6,1080.0 735.6,1079.8 737.6,1079.6 739.6,1079.4 741.6,1079.1 743.6,1078.9 745.6,1078.6 747.6,1078.4 749.6,1078.1 751.6,1077.9 753.6,1077.6 755.6,1077.3 757.6,1077.0 759.6,1076.7 761.6,1076.4 763.6,1076.0 765.6,1075.7 767.6,1075.3 769.6,1074.9 771.6,1074.5 773.6,1074.1 775.6,1073.7 777.6,1073.3 779.6,1072.9 781.6,1072.4 783.6,1071.9 785.6,1071.4 787.6,1070.9 789.6,1070.4 791.6,1069.8 793.6,1069.2 795.6,1068.6 797.6,1068.0 799.6,1067.4 801.6,1066.7 803.6,1066.1 805.6,1065.3 807.6,1064.6 809.6,1063.9 811.6,1063.1 813.6,1062.3 815.6,1061.4 817.6,1060.5 819.6,1059.6 821.6,1058.7 823.6,1057.7 825.6,1056.7 827.6,1055.7 829.6,1054.6 831.6,1053.5 833.6,1052.3 835.6,1051.2 837.6,1049.9 839.6,1048.7 841.7,1047.3 843.7,1046.0 845.7,1044.6 847.7,1043.1 849.7,1041.6 851.7,1040.0 853.7,1038.4 855.7,1036.8 857.7,1035.1 859.7,1033.3 861.7,1031.4 863.7,1029.6 865.7,1027.6 867.7,1025.6 869.7,1023.5 871.7,1021.4 873.7,1019.1 875.7,1016.9 877.7,1014.5 879.7,1012.1 881.7,1009.6 883.7,1007.0 885.7,1004.3 887.7,1001.6 889.7,998.8 891.7,995.9 893.7,992.9 895.7,989.8 897.7,986.7 899.7,983.4 901.7,980.1 903.7,976.7 905.7,973.2 907.7,969.5 909.7,965.8 911.7,962.0 913.7,958.1 915.7,954.1 917.7,950.0 919.7,945.7 921.7,941.4 923.7,937.0 925.7,932.4 927.7,927.8 929.7,923.0 931.7,918.2 933.7,913.2 935.7,908.1 937.7,902.9 939.7,897.6 941.7,892.1 943.7,886.6 945.7,880.9 947.7,875.1 949.7,869.3 951.7,863.2 953.7,857.1 955.7,850.9 957.7,844.5 959.7,838.1 961.7,831.5 963.7,824.8 965.7,818.0 967.7,811.1 969.7,804.1 971.7,797.0 973.7,789.8 975.7,782.4 977.7,775.0 979.7,767.5 981.7,759.8 983.7,752.1 985.7,744.3 987.7,736.4 989.7,728.4 991.7,720.3 993.7,712.1 995.7,703.8 997.7,695.5 999.7,687.1 1001.7,678.6 1003.7,670.1 1005.7,661.5 1007.7,652.9 1009.7,644.2 1011.7,635.4 1013.7,626.6 1015.7,617.8 1017.7,608.9 1019.7,600.0 1021.7,591.1 1023.7,582.1 1025.7,573.1 1027.7,564.2 1029.7,555.2 1031.7,546.2 1033.7,537.3 1035.7,528.3 1037.7,519.4 1039.7,510.5 1041.7,501.6 1043.7,492.8 1045.7,484.0 1047.7,475.2 1049.7,466.5 1051.7,457.9 1053.7,449.3 1055.7,440.8 1057.7,432.4 1059.7,424.1 1061.7,415.9 1063.7,407.7 1065.7,399.7 1067.7,391.8 1069.7,384.0 1071.7,376.3 1073.7,368.7 1075.7,361.3 1077.7,354.0 1079.7,346.9 1081.7,339.9 1083.7,333.0 1085.7,326.4 1087.7,319.8 1089.7,313.5 1091.7,307.3 1093.7,301.3 1095.7,295.5 1097.7,289.9 1099.7,284.4 1101.7,279.2 1103.7,274.1 1105.7,269.3 1107.7,264.6 1109.7,260.2 1111.7,255.9 1113.7,251.9 1115.7,248.1 1117.7,244.5 1119.7,241.1 1121.7,237.9 1123.7,235.0 1125.7,232.2 1127.7,229.7 1129.7,227.4 1131.7,225.3 1133.7,223.5 1135.7,221.8 1137.7,220.4 1139.7,219.2 1141.7,218.2 1143.7,217.4 1145.7,216.9 1147.7,216.5 1149.7,216.4 1151.7,216.4 1153.7,216.7 1155.7,217.1 1157.7,217.8 1159.7,218.6 1161.7,219.7 1163.7,220.9 1165.7,222.3 1167.7,223.8 1169.7,225.6 1171.7,227.5 1173.7,229.5 1175.7,231.8 1177.7,234.1 1179.7,236.7 1181.7,239.3 1183.7,242.1 1185.7,245.0 1187.7,248.1 1189.7,251.2 1191.7,254.5 1193.7,257.9 1195.7,261.4 1197.7,264.9 1199.7,268.6 1201.7,272.3 1203.7,276.2 1205.7,280.0 1207.7,284.0 1209.7,288.0 1211.7,292.0 1213.7,296.1 1215.7,300.3 1217.7,304.4 1219.7,308.6 1221.7,312.9 1223.7,317.1 1225.7,321.4 1227.7,325.6 1229.7,329.9 1231.7,334.1 1233.7,338.3 1235.7,342.6 1237.7,346.8 1239.7,351.0 1241.7,355.1 1243.7,359.3 1245.7,363.3 1247.7,367.4 1249.7,371.4 1251.7,375.4 1253.7,379.3 1255.7,383.2 1257.7,387.0 1259.8,390.7 1261.8,394.4 1263.8,398.1 1265.8,401.6 1267.8,405.1 1269.8,408.6 1271.8,412.0 1273.8,415.3 1275.8,418.5 1277.8,421.7 1279.8,424.8 1281.8,427.8 1283.8,430.7 1285.8,433.6 1287.8,436.4 1289.8,439.2 1291.8,441.9 1293.8,444.5 1295.8,447.0 1297.8,449.5 1299.8,451.9 1301.8,454.2 1303.8,456.5 1305.8,458.7 1307.8,460.8 1309.8,462.9 1311.8,465.0 1313.8,467.0 1315.8,468.9 1317.8,470.8 1319.8,472.6 1321.8,474.4 1323.8,476.2 1325.8,477.9 1327.8,479.6 1329.8,481.2 1331.8,482.8 1333.8,484.4 1335.8,486.0 1337.8,487.5 1339.8,489.1 1341.8,490.6 1343.8,492.1 1345.8,493.5 1347.8,495.0 1349.8,496.5 1351.8,498.0 1353.8,499.4 1355.8,500.9 1357.8,502.4 1359.8,503.9 1361.8,505.4 1363.8,506.9 1365.8,508.5 1367.8,510.0 1369.8,511.6 1371.8,513.2 1373.8,514.9 1375.8,516.6 1377.8,518.3 1379.8,520.0 1381.8,521.8 1383.8,523.6 1385.8,525.5 1387.8,527.4 1389.8,529.4 1391.8,531.4 1393.8,533.4 1395.8,535.5 1397.8,537.7 1399.8,539.9 1401.8,542.2 1403.8,544.5 1405.8,547.0 1407.8,549.4 1409.8,552.0 1411.8,554.6 1413.8,557.3 1415.8,560.0 1417.8,562.8 1419.8,565.7 1421.8,568.7 1423.8,571.7 1425.8,574.8 1427.8,578.0 1429.8,581.2 1431.8,584.5 1433.8,587.9 1435.8,591.3 1437.8,594.8 1439.8,598.4 1441.8,602.0 1443.8,605.7 1445.8,609.5 1447.8,613.3 1449.8,617.2 1451.8,621.1 1453.8,625.1 1455.8,629.2 1457.8,633.3 1459.8,637.4 1461.8,641.6 1463.8,645.9 1465.8,650.2 1467.8,654.5 1469.8,658.9 1471.8,663.3 1473.8,667.8 1475.8,672.3 1477.8,676.8 1479.8,681.4 1481.8,686.0 1483.8,690.6 1485.8,695.2 1487.8,699.9 1489.8,704.6 1491.8,709.3 1493.8,714.0 1495.8,718.8 1497.8,723.5 1499.8,728.3 1501.8,733.1 1503.8,737.9 1505.8,742.6 1507.8,747.4 1509.8,752.2 1511.8,757.0 1513.8,761.8 1515.8,766.6 1517.8,771.3 1519.8,776.1 1521.8,780.8 1523.8,785.6 1525.8,790.3 1527.8,795.0 1529.8,799.6 1531.8,804.3 1533.8,808.9 1535.8,813.5 1537.8,818.1 1539.8,822.7 1541.8,827.2 1543.8,831.7 1545.8,836.1 1547.8,840.6 1549.8,845.0 1551.8,849.3 1553.8,853.6 1555.8,857.9 1557.8,862.2 1559.8,866.4 1561.8,870.5 1563.8,874.6 1565.8,878.7 1567.8,882.7 1569.8,886.7 1571.8,890.7 1573.8,894.5 1575.8,898.4 1577.8,902.2 1579.8,905.9 1581.8,909.6 1583.8,913.3 1585.8,916.9 1587.8,920.4 1589.8,924.0 1591.8,927.4 1593.8,930.8 1595.8,934.2 1597.8,937.5 1599.8,940.7 1601.8,943.9 1603.8,947.1 1605.8,950.2 1607.8,953.2 1609.8,956.2 1611.8,959.2 1613.8,962.1 1615.8,964.9 1617.8,967.7 1619.8,970.5 1621.8,973.2 1623.8,975.8 1625.8,978.4 1627.8,981.0 1629.8,983.5 1631.8,985.9 1633.8,988.3 1635.8,990.7 1637.8,993.0 1639.8,995.3 1641.8,997.5 1643.8,999.7 1645.8,1001.8 1647.8,1003.9 1649.8,1006.0 1651.8,1008.0 1653.8,1009.9 1655.8,1011.9 1657.8,1013.8 1659.8,1015.6 1661.8,1017.4 1663.8,1019.2 1665.8,1020.9 1667.8,1022.6 1669.8,1024.2 1671.8,1025.8 1673.8,1027.4 1675.9,1028.9 1677.9,1030.4 1679.9,1031.9 1681.9,1033.3 1683.9,1034.7 1685.9,1036.1 1687.9,1037.4 1689.9,1038.7 1691.9,1040.0 1693.9,1041.2 1695.9,1042.5 1697.9,1043.6 1699.9,1044.8 1701.9,1045.9 1703.9,1047.0 1705.9,1048.1 1707.9,1049.1 1709.9,1050.1 1711.9,1051.1 1713.9,1052.1 1715.9,1053.0 1717.9,1053.9 1719.9,1054.8 1721.9,1055.7 1723.9,1056.5 1725.9,1057.4 1727.9,1058.2 1729.9,1058.9 1731.9,1059.7 1733.9,1060.4 1735.9,1061.2 1737.9,1061.9 1739.9,1062.6 1741.9,1063.2 1743.9,1063.9 1745.9,1064.5 1747.9,1065.1 1749.9,1065.7 1751.9,1066.3 1753.9,1066.8 1755.9,1067.4 1757.9,1067.9 1759.9,1068.4 1761.9,1068.9 1763.9,1069.4 1765.9,1069.9 1767.9,1070.3 1769.9,1070.8 1771.9,1071.2 1773.9,1071.6 1775.9,1072.0 1777.9,1072.4 1779.9,1072.8 1781.9,1073.2 1783.9,1073.5 1785.9,1073.9 1787.9,1074.2 1789.9,1074.6 1791.9,1074.9 1793.9,1075.2 1795.9,1075.5 1797.9,1075.8 1799.9,1076.1 1801.9,1076.3 1803.9,1076.6 1805.9,1076.9 1807.9,1077.1 1809.9,1077.4 1811.9,1077.6 1813.9,1077.8 1815.9,1078.0 1817.9,1078.2 1819.9,1078.4 1821.9,1078.6 1823.9,1078.8 1825.9,1079.0 1827.9,1079.2 1829.9,1079.4 1831.9,1079.5 1833.9,1079.7 1835.9,1079.9 1837.9,1080.0 1839.9,1080.1 1841.9,1080.3 1843.9,1080.4 1845.9,1080.6 1847.9,1080.7 1849.9,1080.8 1851.9,1080.9 1853.9,1081.0 1855.9,1081.1 1857.9,1081.2 1859.9,1081.4 1861.9,1081.4 1863.9,1081.5 1865.9,1081.6 1867.9,1081.7 1869.9,1081.8 1871.9,1081.9 1873.9,1082.0 1875.9,1082.0 1877.9,1082.1 1879.9,1082.2 1881.9,1082.3 1883.9,1082.3" stroke="#f0f" stroke-width="8.1"/>
<polyline points="191.1,1357.3 202.4,1374.7 213.8,1356.3 225.1,1375.7 236.5,1394.4 247.8,1350.8 259.2,1372.6 270.5,1367.5 281.9,1387.9 293.2,1370.0 304.6,1351.6 315.9,1357.3 327.3,1338.3 338.6,1343.6 350.0,1347.1 361.3,1367.1 372.6,1371.6 384.0,1378.7 395.3,1389.9 406.7,1380.8 418.0,1346.1 429.4,1358.3 440.7,1339.0 452.1,1338.3 463.4,1367.5 474.8,1373.6 486.1,1345.1 497.5,1370.6 508.8,1389.9 520.1,1394.4 531.5,1368.5 542.8,1369.1 554.2,1363.4 565.5,1341.0 576.9,1324.3 588.2,1354.4 599.6,1353.4 610.9,1386.7 622.3,1316.7 633.6,1354.4 645.0,1370.7 656.3,1391.1 667.7,1368.7 679.0,1370.7 690.3,1383.0 701.7,1395.2 713.0,1350.3 724.4,1336.1 735.7,1324.8 747.1,1328.9 758.4,1318.7 769.8,1378.9 781.1,1370.7 792.5,1321.8 803.8,1378.9 815.2,1347.3 826.5,1370.7 837.9,1362.6 849.2,1368.7 860.5,1348.3 871.9,1353.4 883.2,1320.8 894.6,1287.7 905.9,1295.3 917.3,1324.8 928.6,1350.3 940.0,1325.9 951.3,1329.9 962.7,1241.2 974.0,1297.3 985.4,1253.4 996.7,1263.6 1008.0,1265.6 1019.4,1225.9 1030.7,1183.0 1042.1,1237.1 1053.4,1175.9 1064.8,1205.5 1076.1,1217.7 1087.5,1197.3 1098.8,1175.9 1110.2,1173.9 1121.5,1166.7 1132.9,1173.9 1144.2,1172.8 1155.6,1149.4 1166.9,1180.0 1178.2,1185.1 1189.6,1207.5 1200.9,1251.4 1212.3,1153.5 1223.6,1233.0 1235.0,1247.3 1246.3,1229.9 1257.7,1237.1 1269.0,1203.8 1280.4,1211.6 1291.7,1241.8 1303.1,1184.1 1314.4,1217.7 1325.8,1248.3 1337.1,1264.6 1348.4,1279.1 1359.8,1244.5 1371.1,1253.6 1382.5,1236.3 1393.8,1283.2 1405.2,1237.3 1416.5,1253.6 1427.9,1248.5 1439.2,1274.0 1450.6,1269.5 1461.9,1268.3 1473.3,1272.0 1484.6,1337.3 1495.9,1340.3 1507.3,1292.4 1518.6,1316.9 1530.0,1303.6 1541.3,1337.3 1552.7,1368.9 1564.0,1376.0 1575.4,1367.9 1586.7,1351.5 1598.1,1316.5 1609.4,1376.0 1620.8,1371.9 1632.1,1346.4 1643.5,1350.5 1654.8,1337.7 1666.1,1343.0 1677.5,1393.8 1688.8,1354.6 1700.2,1355.6 1711.5,1388.4 1722.9,1352.7 1734.2,1357.3 1745.6,1361.9 1756.9,1354.8 1768.3,1381.8 1779.6,1416.0 1791.0,1374.7 1802.3,1361.4 1813.6,1377.7 1825.0,1343.5 1836.3,1381.8 1847.7,1372.1 1859.0,1356.3 1870.4,1344.6 1881.7,1349.7" stroke="#505050" stroke-width="3.9" stroke-linejoin="round"/>
<polyline points="191.1,1362.1 193.1,1362.1 195.1,1362.1 197.1,1362.1 199.1,1362.1 201.1,1362.1 203.1,1362.1 205.1,1362.1 207.1,1362.1 209.1,1362.1 211.1,1362.1 213.1,1362.1 215.1,1362.2 217.1,1362.2 219.1,1362.2 221.1,1362.2 223.1,1362.2 225.1,1362.2 227.1,1362.2 229.1,1362.2 231.1,1362.2 233.1,1362.2 235.1,1362.2 237.1,1362.2 239.1,1362.2 241.1,1362.2 243.1,1362.2 245.1,1362.2 247.1,1362.2 249.1,1362.2 251.1,1362.2 253.1,1362.2 255.1,1362.2 257.1,1362.2 259.1,1362.3 261.1,1362.3 263.1,1362.3 265.1,1362.3 267.1,1362.3 269.1,1362.3 271.1,1362.3 273.1,1362.3 275.1,1362.3 277.1,1362.3 279.1,1362.3 281.1,1362.3 283.1,1362.3 285.1,1362.3 287.1,1362.3 289.1,1362.3 291.1,1362.3 293.1,1362.3 295.1,1362.3 297.1,1362.3 299.1,1362.3 301.1,1362.3 303.1,1362.4 305.1,1362.4 307.1,1362.4 309.1,1362.4 311.1,1362.4 313.1,1362.4 315.1,1362.4 317.1,1362.4 319.1,1362.4 321.1,1362.4 323.1,1362.4 325.1,1362.4 327.1,1362.4 329.1,1362.4 331.1,1362.4 333.1,1362.4 335.1,1362.4 337.1,1362.4 339.1,1362.4 341.1,1362.4 343.1,1362.4 345.1,1362.4 347.1,1362.5 349.1,1362.5 351.1,1362.5 353.1,1362.5 355.1,1362.5 357.1,1362.5 359.1,1362.5 361.1,1362.5 363.1,1362.5 365.1,1362.5 367.1,1362.5 369.1,1362.5 371.1,1362.5 373.1,1362.5 375.1,1362.5 377.1,1362.5 379.1,1362.5 381.1,1362.5 383.1,1362.5 385.1,1362.5 387.1,1362.5 389.1,1362.5 391.1,1362.5 393.1,1362.6 395.1,1362.6 397.1,1362.6 399.1,1362.6 401.1,1362.6 403.1,1362.6 405.1,1362.6 407.1,1362.6 409.1,1362.6 411.1,1362.6 413.1,1362.6 415.1,1362.6 417.1,1362.6 419.1,1362.6 421.1,1362.6 423.1,1362.6 425.1,1362.6 427.1,1362.6 429.1,1362.6 431.1,1362.6 433.1,1362.6 435.1,1362.6 437.1,1362.6 439.1,1362.6 441.1,1362.7 443.1,1362.7 445.1,1362.7 447.1,1362.7 449.1,1362.7 451.1,1362.7 453.1,1362.7 455.1,1362.7 457.1,1362.7 459.1,1362.7 461.1,1362.7 463.1,1362.7 465.1,1362.7 467.1,1362.7 469.1,1362.7 471.1,1362.7 473.1,1362.7 475.1,1362.7 477.1,1362.7 479.1,1362.7 481.1,1362.7 483.1,1362.7 485.1,1362.7 487.1,1362.7 489.1,1362.7 491.1,1362.7 493.1,1362.7 495.1,1362.7 497.1,1362.7 499.1,1362.8 501.1,1362.8 503.1,1362.8 505.1,1362.8 507.1,1362.8 509.1,1362.8 511.1,1362.8 513.1,1362.8 515.1,1362.8 517.1,1362.8 519.1,1362.8 521.1,1362.8 523.1,1362.8 525.1,1362.8 527.1,1362.8 529.1,1362.8 531.1,1362.8 533.1,1362.8 535.1,1362.8 537.1,1362.8 539.1,1362.8 541.1,1362.8 543.1,1362.8 545.1,1362.8 547.1,1362.8 549.1,1362.8 551.1,1362.8 553.1,1362.8 555.1,1362.8 557.1,1362.8 559.1,1362.8 561.1,1362.8 563.1,1362.8 565.1,1362.8 567.1,1362.7 569.1,1362.7 571.1,1362.7 573.1,1362.7 575.1,1362.7 577.1,1362.7 579.1,1362.7 581.1,1362.7 583.1,1362.7 585.1,1362.7 587.1,1362.7 589.1,1362.7 591.1,1362.7 593.1,1362.7 595.1,1362.7 597.1,1362.6 599.1,1362.6 601.1,1362.6 603.1,1362.6 605.1,1362.6 607.1,1362.6 609.1,1362.6 611.1,1362.6 613.1,1362.5 615.1,1362.5 617.1,1362.5 619.1,1362.5 621.1,1362.5 623.1,1362.4 625.1,1362.4 627.1,1362.4 629.1,1362.4 631.1,1362.4 633.1,1362.3 635.1,1362.3 637.1,1362.3 639.1,1362.3 641.1,1362.2 643.1,1362.2 645.1,1362.2 647.1,1362.1 649.1,1362.1 651.1,1362.1 653.1,1362.0 655.1,1362.0 657.1,1362.0 659.1,1361.9 661.1,1361.9 663.1,1361.9 665.1,1361.8 667.1,1361.8 669.1,1361.7 671.1,1361.7 673.1,1361.6 675.1,1361.6 677.1,1361.5 679.1,1361.5 681.1,1361.4 683.1,1361.3 685.1,1361.3 687.1,1361.2 689.1,1361.2 691.1,1361.1 693.1,1361.0 695.1,1361.0 697.1,1360.9 699.1,1360.8 701.1,1360.7 703.1,1360.7 705.1,1360.6 707.1,1360.5 709.1,1360.4 711.1,1360.3 713.1,1360.2 715.1,1360.1 717.1,1360.0 719.1,1359.9 721.1,1359.8 723.1,1359.7 725.1,1359.6 727.1,1359.5 729.1,1359.4 731.1,1359.3 733.1,1359.2 735.1,1359.0 737.1,1358.9 739.1,1358.8 741.1,1358.7 743.1,1358.5 745.1,1358.4 747.1,1358.2 749.1,1358.1 751.1,1357.9 753.1,1357.8 755.1,1357.6 757.1,1357.5 759.1,1357.3 761.1,1357.1 763.1,1357.0 765.1,1356.8 767.1,1356.6 769.1,1356.4 771.1,1356.2 773.1,1356.0 775.1,1355.8 777.1,1355.6 779.1,1355.4 781.1,1355.2 783.1,1354.9 785.1,1354.7 787.1,1354.5 789.1,1354.2 791.1,1354.0 793.1,1353.7 795.1,1353.5 797.1,1353.2 799.1,1353.0 801.1,1352.7 803.1,1352.4 805.1,1352.1 807.1,1351.8 809.1,1351.5 811.1,1351.2 813.1,1350.9 815.1,1350.6 817.1,1350.2 819.1,1349.9 821.1,1349.5 823.1,1349.2 825.1,1348.8 827.1,1348.4 829.1,1348.1 831.1,1347.7 833.1,1347.3 835.1,1346.9 837.1,1346.5 839.1,1346.0 841.1,1345.6 843.1,1345.1 845.1,1344.7 847.1,1344.2 849.1,1343.7 851.1,1343.2 853.1,1342.7 855.1,1342.2 857.1,1341.7 859.1,1341.2 861.1,1340.6 863.1,1340.1 865.1,1339.5 867.1,1338.9 869.1,1338.3 871.1,1337.7 873.1,1337.0 875.1,1336.4 877.1,1335.7 879.1,1335.0 881.1,1334.3 883.1,1333.6 885.1,1332.9 887.1,1332.2 889.1,1331.4 891.1,1330.6 893.1,1329.8 895.1,1329.0 897.1,1328.2 899.1,1327.3 901.1,1326.5 903.1,1325.6 905.1,1324.7 907.1,1323.7 909.1,1322.8 911.1,1321.8 913.1,1320.8 915.1,1319.8 917.1,1318.8 919.1,1317.7 921.1,1316.6 923.1,1315.5 925.1,1314.4 927.1,1313.2 929.1,1312.1 931.1,1310.9 933.1,1309.7 935.1,1308.4 937.1,1307.2 939.1,1305.9 941.1,1304.6 943.1,1303.2 945.1,1301.9 947.1,1300.5 949.1,1299.1 951.1,1297.7 953.1,1296.2 955.1,1294.7 957.1,1293.2 959.1,1291.7 961.1,1290.2 963.1,1288.6 965.1,1287.0 967.1,1285.4 969.1,1283.8 971.1,1282.1 973.1,1280.5 975.1,1278.8 977.1,1277.1 979.1,1275.4 981.1,1273.6 983.1,1271.9 985.1,1270.1 987.1,1268.3 989.1,1266.5 991.1,1264.7 993.1,1262.8 995.1,1261.0 997.1,1259.2 999.1,1257.3 1001.1,1255.4 1003.1,1253.6 1005.1,1251.7 1007.1,1249.8 1009.1,1247.9 1011.1,1246.0 1013.1,1244.1 1015.1,1242.3 1017.1,1240.4 1019.1,1238.5 1021.1,1236.6 1023.1,1234.8 1025.1,1232.9 1027.1,1231.1 1029.1,1229.2 1031.1,1227.4 1033.1,1225.6 1035.1,1223.8 1037.0,1222.1 1039.0,1220.3 1041.0,1218.6 1043.0,1216.9 1045.0,1215.2 1047.0,1213.6 1049.0,1212.0 1051.0,1210.4 1053.0,1208.8 1055.0,1207.3 1057.0,1205.8 1059.0,1204.4 1061.0,1203.0 1063.0,1201.6 1065.0,1200.3 1067.0,1199.0 1069.0,1197.8 1071.0,1196.6 1073.0,1195.5 1075.0,1194.4 1077.0,1193.3 1079.0,1192.4 1081.0,1191.4 1083.0,1190.5 1085.0,1189.7 1087.0,1189.0 1089.0,1188.3 1091.0,1187.6 1093.0,1187.0 1095.0,1186.5 1097.0,1186.0 1099.0,1185.6 1101.0,1185.2 1103.0,1185.0 1105.0,1184.7 1107.0,1184.6 1109.0,1184.5 1111.0,1184.4 1113.0,1184.5 1115.0,1184.5 1117.0,1184.7 1119.0,1184.8 1121.0,1185.1 1123.0,1185.3 1125.0,1185.7 1127.0,1186.1 1129.0,1186.5 1131.0,1187.0 1133.0,1187.5 1135.0,1188.1 1137.0,1188.8 1139.0,1189.4 1141.0,1190.2 1143.0,1191.0 1145.0,1191.8 1147.0,1192.7 1149.0,1193.6 1151.0,1194.5 1153.0,1195.5 1155.0,1196.6 1157.0,1197.7 1159.0,1198.8 1161.0,1200.0 1163.0,1201.2 1165.0,1202.5 1167.0,1203.7 1169.0,1205.1 1171.0,1206.4 1173.0,1207.8 1175.0,1209.2 1177.0,1210.7 1179.0,1212.2 1181.0,1213.7 1183.0,1215.2 1185.0,1216.8 1187.0,1218.4 1189.0,1220.0 1191.0,1221.6 1193.0,1223.3 1195.0,1225.0 1197.0,1226.7 1199.0,1228.4 1201.0,1230.1 1203.0,1231.9 1205.0,1233.7 1207.0,1235.4 1209.0,1237.2 1211.0,1239.0 1213.0,1240.8 1215.0,1242.7 1217.0,1244.5 1219.0,1246.3 1221.0,1248.2 1223.0,1250.0 1225.0,1251.8 1227.0,1253.7 1229.0,1255.5 1231.0,1257.4 1233.0,1259.2 1235.0,1261.0 1237.0,1262.9 1239.0,1264.7 1241.0,1266.5 1243.0,1268.3 1245.0,1270.1 1247.0,1271.9 1249.0,1273.7 1251.0,1275.5 1253.0,1277.3 1255.0,1279.0 1257.0,1280.7 1259.0,1282.5 1261.0,1284.2 1263.0,1285.9 1265.0,1287.6 1267.0,1289.2 1269.0,1290.9 1271.0,1292.5 1273.0,1294.1 1275.0,1295.7 1277.0,1297.3 1279.0,1298.8 1281.0,1300.4 1283.0,1301.9 1285.0,1303.4 1287.0,1304.8 1289.0,1306.3 1291.0,1307.7 1293.0,1309.1 1295.0,1310.5 1297.0,1311.9 1299.0,1313.2 1301.0,1314.5 1303.0,1315.8 1305.0,1317.1 1307.0,1318.3 1309.0,1319.6 1311.0,1320.8 1313.0,1321.9 1315.0,1323.1 1317.0,1324.2 1319.0,1325.3 1321.0,1326.4 1323.0,1327.5 1325.0,1328.5 1327.0,1329.6 1329.0,1330.5 1331.0,1331.5 1333.0,1332.5 1335.0,1333.4 1337.0,1334.3 1339.0,1335.2 1341.0,1336.1 1343.0,1336.9 1345.0,1337.7 1347.0,1338.5 1349.0,1339.3 1351.0,1340.1 1353.0,1340.8 1355.0,1341.6 1357.0,1342.3 1359.0,1342.9 1361.0,1343.6 1363.0,1344.3 1365.0,1344.9 1367.0,1345.5 1369.0,1346.1 1371.0,1346.7 1373.0,1347.2 1375.0,1347.8 1377.0,1348.3 1379.0,1348.8 1381.0,1349.3 1383.0,1349.8 1385.0,1350.3 1387.0,1350.7 1389.0,1351.2 1391.0,1351.6 1393.0,1352.0 1395.0,1352.4 1397.0,1352.8 1399.0,1353.2 1401.0,1353.6 1403.0,1353.9 1405.0,1354.3 1407.0,1354.6 1409.0,1354.9 1411.0,1355.2 1413.0,1355.5 1415.0,1355.8 1417.0,1356.1 1419.0,1356.3 1421.0,1356.6 1423.0,1356.9 1425.0,1357.1 1427.0,1357.3 1429.0,1357.6 1431.0,1357.8 1433.0,1358.0 1435.0,1358.2 1437.0,1358.4 1439.0,1358.6 1441.0,1358.8 1443.0,1358.9 1445.0,1359.1 1447.0,1359.3 1449.0,1359.4 1451.0,1359.6 1453.0,1359.8 1455.0,1359.9 1457.0,1360.0 1459.0,1360.2 1461.0,1360.3 1463.0,1360.4 1465.0,1360.5 1467.0,1360.7 1469.0,1360.8 1471.0,1360.9 1473.0,1361.0 1475.0,1361.1 1477.0,1361.2 1479.0,1361.3 1481.0,1361.4 1483.0,1361.5 1485.0,1361.6 1487.0,1361.6 1489.0,1361.7 1491.0,1361.8 1493.0,1361.9 1495.0,1362.0 1497.0,1362.0 1499.0,1362.1 1501.0,1362.2 1503.0,1362.2 1505.0,1362.3 1507.0,1362.4 1509.0,1362.4 1511.0,1362.5 1513.0,1362.5 1515.0,1362.6 1517.0,1362.6 1519.0,1362.7 1521.0,1362.7 1523.0,1362.8 1525.0,1362.8 1527.0,1362.9 1529.0,1362.9 1531.0,1363.0 1533.0,1363.0 1535.0,1363.1 1537.0,1363.1 1539.0,1363.2 1541.0,1363.2 1543.0,1363.2 1545.0,1363.3 1547.0,1363.3 1549.0,1363.3 1551.0,1363.4 1553.0,1363.4 1555.0,1363.5 1557.0,1363.5 1559.0,1363.5 1561.0,1363.6 1563.0,1363.6 1565.0,1363.6 1567.0,1363.6 1569.0,1363.7 1571.0,1363.7 1573.0,1363.7 1575.0,1363.8 1577.0,1363.8 1579.0,1363.8 1581.0,1363.9 1583.0,1363.9 1585.0,1363.9 1587.0,1363.9 1589.0,1364.0 1591.0,1364.0 1593.0,1364.0 1595.0,1364.0 1597.0,1364.1 1599.0,1364.1 1601.0,1364.1 1603.0,1364.1 1605.0,1364.2 1607.0,1364.2 1609.0,1364.2 1611.0,1364.2 1613.0,1364.3 1615.0,1364.3 1617.0,1364.3 1619.0,1364.3 1621.0,1364.3 1623.0,1364.4 1625.0,1364.4 1627.0,1364.4 1629.0,1364.4 1631.0,1364.4 1633.0,1364.5 1635.0,1364.5 1637.0,1364.5 1639.0,1364.5 1641.0,1364.5 1643.0,1364.6 1645.0,1364.6 1647.0,1364.6 1649.0,1364.6 1651.0,1364.6 1653.0,1364.7 1655.0,1364.7 1657.0,1364.7 1659.0,1364.7 1661.0,1364.7 1663.0,1364.7 1665.0,1364.8 1667.0,1364.8 1669.0,1364.8 1671.0,1364.8 1673.0,1364.8 1675.0,1364.8 1677.0,1364.8 1679.0,1364.9 1681.0,1364.9 1683.0,1364.9 1685.0,1364.9 1687.0,1364.9 1689.0,1364.9 1691.0,1365.0 1693.0,1365.0 1695.0,1365.0 1697.0,1365.0 1699.0,1365.0 1701.0,1365.0 1703.0,1365.0 1705.0,1365.1 1707.0,1365.1 1709.0,1365.1 1711.0,1365.1 1713.0,1365.1 1715.0,1365.1 1717.0,1365.1 1719.0,1365.1 1721.0,1365.2 1723.0,1365.2 1725.0,1365.2 1727.0,1365.2 1729.0,1365.2 1731.0,1365.2 1733.0,1365.2 1735.0,1365.2 1737.0,1365.2 1739.0,1365.3 1741.0,1365.3 1743.0,1365.3 1745.0,1365.3 1747.0,1365.3 1749.0,1365.3 1751.0,1365.3 1753.0,1365.3 1755.0,1365.3 1757.0,1365.4 1759.0,1365.4 1761.0,1365.4 1763.0,1365.4 1765.0,1365.4 1767.0,1365.4 1769.0,1365.4 1771.0,1365.4 1773.0,1365.4 1775.0,1365.4 1777.0,1365.5 1779.0,1365.5 1781.0,1365.5 1783.0,1365.5 1785.0,1365.5 1787.0,1365.5 1789.0,1365.5 1791.0,1365.5 1793.0,1365.5 1795.0,1365.5 1797.0,1365.5 1799.0,1365.5 1801.0,1365.6 1803.0,1365.6 1805.0,1365.6 1807.0,1365.6 1809.0,1365.6 1811.0,1365.6 1813.0,1365.6 1815.0,1365.6 1817.0,1365.6 1819.0,1365.6 1821.0,1365.6 1823.0,1365.6 1825.0,1365.6 1827.0,1365.7 1829.0,1365.7 1831.0,1365.7 1833.0,1365.7 1835.0,1365.7 1837.0,1365.7 1839.0,1365.7 1841.0,1365.7 1843.0,1365.7 1845.0,1365.7 1847.0,1365.7 1849.0,1365.7 1851.0,1365.7 1853.0,1365.7 1855.0,1365.8 1857.0,1365.8 1859.0,1365.8 1861.0,1365.8 1863.0,1365.8 1865.0,1365.8 1867.0,1365.8 1869.0,1365.8 1871.0,1365.8 1873.0,1365.8 1875.0,1365.8 1877.0,1365.8 1879.0,1365.8 1881.0,1365.8" stroke="#ee4040" stroke-width="8.2"/>
<polyline points="191.1,1362.1 193.1,1362.1 195.1,1362.1 197.1,1362.1 199.1,1362.1 201.1,1362.1 203.1,1362.1 205.1,1362.1 207.1,1362.1 209.1,1362.1 211.1,1362.1 213.1,1362.1 215.1,1362.2 217.1,1362.2 219.1,1362.2 221.1,1362.2 223.1,1362.2 225.1,1362.2 227.1,1362.2 229.1,1362.2 231.1,1362.2 233.1,1362.2 235.1,1362.2 237.1,1362.2 239.1,1362.2 241.1,1362.2 243.1,1362.2 245.1,1362.2 247.1,1362.2 249.1,1362.2 251.1,1362.2 253.1,1362.2 255.1,1362.2 257.1,1362.2 259.1,1362.3 261.1,1362.3 263.1,1362.3 265.1,1362.3 267.1,1362.3 269.1,1362.3 271.1,1362.3 273.1,1362.3 275.1,1362.3 277.1,1362.3 279.1,1362.3 281.1,1362.3 283.1,1362.3 285.1,1362.3 287.1,1362.3 289.1,1362.3 291.1,1362.3 293.1,1362.3 295.1,1362.3 297.1,1362.3 299.1,1362.3 301.1,1362.3 303.1,1362.4 305.1,1362.4 307.1,1362.4 309.1,1362.4 311.1,1362.4 313.1,1362.4 315.1,1362.4 317.1,1362.4 319.1,1362.4 321.1,1362.4 323.1,1362.4 325.1,1362.4 327.1,1362.4 329.1,1362.4 331.1,1362.4 333.1,1362.4 335.1,1362.4 337.1,1362.4 339.1,1362.4 341.1,1362.4 343.1,1362.4 345.1,1362.4 347.1,1362.5 349.1,1362.5 351.1,1362.5 353.1,1362.5 355.1,1362.5 357.1,1362.5 359.1,1362.5 361.1,1362.5 363.1,1362.5 365.1,1362.5 367.1,1362.5 369.1,1362.5 371.1,1362.5 373.1,1362.5 375.1,1362.5 377.1,1362.5 379.1,1362.5 381.1,1362.5 383.1,1362.5 385.1,1362.5 387.1,1362.5 389.1,1362.5 391.1,1362.5 393.1,1362.6 395.1,1362.6 397.1,1362.6 399.1,1362.6 401.1,1362.6 403.1,1362.6 405.1,1362.6 407.1,1362.6 409.1,1362.6 411.1,1362.6 413.1,1362.6 415.1,1362.6 417.1,1362.6 419.1,1362.6 421.1,1362.6 423.1,1362.6 425.1,1362.6 427.1,1362.6 429.1,1362.6 431.1,1362.6 433.1,1362.6 435.1,1362.6 437.1,1362.7 439.1,1362.7 441.1,1362.7 443.1,1362.7 445.1,1362.7 447.1,1362.7 449.1,1362.7 451.1,1362.7 453.1,1362.7 455.1,1362.7 457.1,1362.7 459.1,1362.7 461.1,1362.7 463.1,1362.7 465.1,1362.7 467.1,1362.7 469.1,1362.7 471.1,1362.7 473.1,1362.7 475.1,1362.7 477.1,1362.7 479.1,1362.7 481.1,1362.8 483.1,1362.8 485.1,1362.8 487.1,1362.8 489.1,1362.8 491.1,1362.8 493.1,1362.8 495.1,1362.8 497.1,1362.8 499.1,1362.8 501.1,1362.8 503.1,1362.8 505.1,1362.8 507.1,1362.8 509.1,1362.8 511.1,1362.8 513.1,1362.8 515.1,1362.8 517.1,1362.8 519.1,1362.8 521.1,1362.8 523.1,1362.8 525.1,1362.9 527.1,1362.9 529.1,1362.9 531.1,1362.9 533.1,1362.9 535.1,1362.9 537.1,1362.9 539.1,1362.9 541.1,1362.9 543.1,1362.9 545.1,1362.9 547.1,1362.9 549.1,1362.9 551.1,1362.9 553.1,1362.9 555.1,1362.9 557.1,1362.9 559.1,1362.9 561.1,1362.9 563.1,1362.9 565.1,1362.9 567.1,1362.9 569.1,1363.0 571.1,1363.0 573.1,1363.0 575.1,1363.0 577.1,1363.0 579.1,1363.0 581.1,1363.0 583.1,1363.0 585.1,1363.0 587.1,1363.0 589.1,1363.0 591.1,1363.0 593.1,1363.0 595.1,1363.0 597.1,1363.0 599.1,1363.0 601.1,1363.0 603.1,1363.0 605.1,1363.0 607.1,1363.0 609.1,1363.0 611.1,1363.0 613.1,1363.0 615.1,1363.1 617.1,1363.1 619.1,1363.1 621.1,1363.1 623.1,1363.1 625.1,1363.1 627.1,1363.1 629.1,1363.1 631.1,1363.1 633.1,1363.1 635.1,1363.1 637.1,1363.1 639.1,1363.1 641.1,1363.1 643.1,1363.1 645.1,1363.1 647.1,1363.1 649.1,1363.1 651.1,1363.1 653.1,1363.1 655.1,1363.1 657.1,1363.1 659.1,1363.2 661.1,1363.2 663.1,1363.2 665.1,1363.2 667.1,1363.2 669.1,1363.2 671.1,1363.2 673.1,1363.2 675.1,1363.2 677.1,1363.2 679.1,1363.2 681.1,1363.2 683.1,1363.2 685.1,1363.2 687.1,1363.2 689.1,1363.2 691.1,1363.2 693.1,1363.2 695.1,1363.2 697.1,1363.2 699.1,1363.2 701.1,1363.2 703.1,1363.2 705.1,1363.3 707.1,1363.3 709.1,1363.3 711.1,1363.3 713.1,1363.3 715.1,1363.3 717.1,1363.3 719.1,1363.3 721.1,1363.3 723.1,1363.3 725.1,1363.3 727.1,1363.3 729.1,1363.3 731.1,1363.3 733.1,1363.3 735.1,1363.3 737.1,1363.3 739.1,1363.3 741.1,1363.3 743.1,1363.3 745.1,1363.3 747.1,1363.3 749.1,1363.3 751.1,1363.4 753.1,1363.4 755.1,1363.4 757.1,1363.4 759.1,1363.4 761.1,1363.4 763.1,1363.4 765.1,1363.4 767.1,1363.4 769.1,1363.4 771.1,1363.4 773.1,1363.4 775.1,1363.4 777.1,1363.4 779.1,1363.4 781.1,1363.4 783.1,1363.4 785.1,1363.4 787.1,1363.4 789.1,1363.4 791.1,1363.4 793.1,1363.4 795.1,1363.4 797.1,1363.4 799.1,1363.4 801.1,1363.4 803.1,1363.4 805.1,1363.4 807.1,1363.4 809.1,1363.5 811.1,1363.5 813.1,1363.5 815.1,1363.5 817.1,1363.5 819.1,1363.5 821.1,1363.5 823.1,1363.5 825.1,1363.5 827.1,1363.5 829.1,1363.5 831.1,1363.5 833.1,1363.5 835.1,1363.5 837.1,1363.5 839.1,1363.5 841.1,1363.5 843.1,1363.5 845.1,1363.5 847.1,1363.5 849.1,1363.5 851.1,1363.5 853.1,1363.5 855.1,1363.5 857.1,1363.5 859.1,1363.5 861.1,1363.5 863.1,1363.5 865.1,1363.5 867.1,1363.5 869.1,1363.5 871.1,1363.5 873.1,1363.5 875.1,1363.5 877.1,1363.5 879.1,1363.5 881.1,1363.4 883.1,1363.4 885.1,1363.4 887.1,1363.4 889.1,1363.4 891.1,1363.4 893.1,1363.4 895.1,1363.4 897.1,1363.4 899.1,1363.4 901.1,1363.4 903.1,1363.4 905.1,1363.4 907.1,1363.4 909.1,1363.3 911.1,1363.3 913.1,1363.3 915.1,1363.3 917.1,1363.3 919.1,1363.3 921.1,1363.3 923.1,1363.3 925.1,1363.2 927.1,1363.2 929.1,1363.2 931.1,1363.2 933.1,1363.2 935.1,1363.2 937.1,1363.1 939.1,1363.1 941.1,1363.1 943.1,1363.1 945.1,1363.1 947.1,1363.0 949.1,1363.0 951.1,1363.0 953.1,1363.0 955.1,1362.9 957.1,1362.9 959.1,1362.9 961.1,1362.8 963.1,1362.8 965.1,1362.8 967.1,1362.7 969.1,1362.7 971.1,1362.7 973.1,1362.6 975.1,1362.6 977.1,1362.6 979.1,1362.5 981.1,1362.5 983.1,1362.4 985.1,1362.4 987.1,1362.3 989.1,1362.3 991.1,1362.2 993.1,1362.2 995.1,1362.1 997.1,1362.1 999.1,1362.0 1001.1,1362.0 1003.1,1361.9 1005.1,1361.8 1007.1,1361.8 1009.1,1361.7 1011.1,1361.6 1013.1,1361.6 1015.1,1361.5 1017.1,1361.4 1019.1,1361.3 1021.1,1361.3 1023.1,1361.2 1025.1,1361.1 1027.1,1361.0 1029.1,1360.9 1031.1,1360.8 1033.1,1360.8 1035.1,1360.7 1037.0,1360.6 1039.0,1360.5 1041.0,1360.4 1043.0,1360.3 1045.0,1360.2 1047.0,1360.0 1049.0,1359.9 1051.0,1359.8 1053.0,1359.7 1055.0,1359.6 1057.0,1359.5 1059.0,1359.3 1061.0,1359.2 1063.0,1359.1 1065.0,1358.9 1067.0,1358.8 1069.0,1358.7 1071.0,1358.5 1073.0,1358.4 1075.0,1358.2 1077.0,1358.0 1079.0,1357.9 1081.0,1357.7 1083.0,1357.6 1085.0,1357.4 1087.0,1357.2 1089.0,1357.0 1091.0,1356.8 1093.0,1356.6 1095.0,1356.5 1097.0,1356.3 1099.0,1356.1 1101.0,1355.8 1103.0,1355.6 1105.0,1355.4 1107.0,1355.2 1109.0,1355.0 1111.0,1354.7 1113.0,1354.5 1115.0,1354.2 1117.0,1354.0 1119.0,1353.7 1121.0,1353.5 1123.0,1353.2 1125.0,1352.9 1127.0,1352.6 1129.0,1352.4 1131.0,1352.1 1133.0,1351.8 1135.0,1351.4 1137.0,1351.1 1139.0,1350.8 1141.0,1350.5 1143.0,1350.1 1145.0,1349.8 1147.0,1349.4 1149.0,1349.0 1151.0,1348.7 1153.0,1348.3 1155.0,1347.9 1157.0,1347.5 1159.0,1347.0 1161.0,1346.6 1163.0,1346.2 1165.0,1345.7 1167.0,1345.3 1169.0,1344.8 1171.0,1344.3 1173.0,1343.8 1175.0,1343.3 1177.0,1342.8 1179.0,1342.3 1181.0,1341.7 1183.0,1341.2 1185.0,1340.6 1187.0,1340.0 1189.0,1339.4 1191.0,1338.8 1193.0,1338.2 1195.0,1337.5 1197.0,1336.9 1199.0,1336.2 1201.0,1335.5 1203.0,1334.8 1205.0,1334.1 1207.0,1333.3 1209.0,1332.6 1211.0,1331.8 1213.0,1331.0 1215.0,1330.2 1217.0,1329.4 1219.0,1328.6 1221.0,1327.8 1223.0,1326.9 1225.0,1326.0 1227.0,1325.1 1229.0,1324.2 1231.0,1323.3 1233.0,1322.4 1235.0,1321.4 1237.0,1320.4 1239.0,1319.5 1241.0,1318.5 1243.0,1317.4 1245.0,1316.4 1247.0,1315.4 1249.0,1314.3 1251.0,1313.3 1253.0,1312.2 1255.0,1311.1 1257.0,1310.0 1259.0,1308.9 1261.0,1307.8 1263.0,1306.7 1265.0,1305.5 1267.0,1304.4 1269.0,1303.2 1271.0,1302.1 1273.0,1300.9 1275.0,1299.8 1277.0,1298.6 1279.0,1297.4 1281.0,1296.3 1283.0,1295.1 1285.0,1293.9 1287.0,1292.8 1289.0,1291.6 1291.0,1290.5 1293.0,1289.3 1295.0,1288.2 1297.0,1287.0 1299.0,1285.9 1301.0,1284.8 1303.0,1283.7 1305.0,1282.6 1307.0,1281.5 1309.0,1280.5 1311.0,1279.4 1313.0,1278.4 1315.0,1277.4 1317.0,1276.4 1319.0,1275.5 1321.0,1274.5 1323.0,1273.6 1325.0,1272.7 1327.0,1271.9 1329.0,1271.1 1331.0,1270.3 1333.0,1269.5 1335.0,1268.7 1337.0,1268.0 1339.0,1267.4 1341.0,1266.7 1343.0,1266.1 1345.0,1265.6 1347.0,1265.0 1349.0,1264.5 1351.0,1264.1 1353.0,1263.7 1355.0,1263.3 1357.0,1263.0 1359.0,1262.7 1361.0,1262.4 1363.0,1262.2 1365.0,1262.1 1367.0,1261.9 1369.0,1261.9 1371.0,1261.8 1373.0,1261.8 1375.0,1261.9 1377.0,1262.0 1379.0,1262.1 1381.0,1262.3 1383.0,1262.5 1385.0,1262.7 1387.0,1263.0 1389.0,1263.3 1391.0,1263.7 1393.0,1264.1 1395.0,1264.6 1397.0,1265.0 1399.0,1265.6 1401.0,1266.1 1403.0,1266.7 1405.0,1267.3 1407.0,1268.0 1409.0,1268.7 1411.0,1269.4 1413.0,1270.1 1415.0,1270.9 1417.0,1271.7 1419.0,1272.6 1421.0,1273.5 1423.0,1274.4 1425.0,1275.3 1427.0,1276.2 1429.0,1277.2 1431.0,1278.2 1433.0,1279.2 1435.0,1280.2 1437.0,1281.3 1439.0,1282.4 1441.0,1283.4 1443.0,1284.5 1445.0,1285.7 1447.0,1286.8 1449.0,1287.9 1451.0,1289.1 1453.0,1290.2 1455.0,1291.4 1457.0,1292.6 1459.0,1293.8 1461.0,1294.9 1463.0,1296.1 1465.0,1297.3 1467.0,1298.5 1469.0,1299.7 1471.0,1300.9 1473.0,1302.1 1475.0,1303.3 1477.0,1304.5 1479.0,1305.7 1481.0,1306.9 1483.0,1308.1 1485.0,1309.2 1487.0,1310.4 1489.0,1311.5 1491.0,1312.7 1493.0,1313.8 1495.0,1315.0 1497.0,1316.1 1499.0,1317.2 1501.0,1318.3 1503.0,1319.4 1505.0,1320.5 1507.0,1321.5 1509.0,1322.6 1511.0,1323.6 1513.0,1324.6 1515.0,1325.6 1517.0,1326.6 1519.0,1327.6 1521.0,1328.6 1523.0,1329.5 1525.0,1330.5 1527.0,1331.4 1529.0,1332.3 1531.0,1333.2 1533.0,1334.0 1535.0,1334.9 1537.0,1335.7 1539.0,1336.6 1541.0,1337.4 1543.0,1338.1 1545.0,1338.9 1547.0,1339.7 1549.0,1340.4 1551.0,1341.1 1553.0,1341.9 1555.0,1342.6 1557.0,1343.2 1559.0,1343.9 1561.0,1344.5 1563.0,1345.2 1565.0,1345.8 1567.0,1346.4 1569.0,1347.0 1571.0,1347.6 1573.0,1348.1 1575.0,1348.7 1577.0,1349.2 1579.0,1349.7 1581.0,1350.2 1583.0,1350.7 1585.0,1351.2 1587.0,1351.6 1589.0,1352.1 1591.0,1352.5 1593.0,1353.0 1595.0,1353.4 1597.0,1353.8 1599.0,1354.2 1601.0,1354.6 1603.0,1354.9 1605.0,1355.3 1607.0,1355.6 1609.0,1356.0 1611.0,1356.3 1613.0,1356.6 1615.0,1356.9 1617.0,1357.2 1619.0,1357.5 1621.0,1357.8 1623.0,1358.1 1625.0,1358.3 1627.0,1358.6 1629.0,1358.9 1631.0,1359.1 1633.0,1359.3 1635.0,1359.6 1637.0,1359.8 1639.0,1360.0 1641.0,1360.2 1643.0,1360.4 1645.0,1360.6 1647.0,1360.8 1649.0,1361.0 1651.0,1361.1 1653.0,1361.3 1655.0,1361.5 1657.0,1361.6 1659.0,1361.8 1661.0,1361.9 1663.0,1362.1 1665.0,1362.2 1667.0,1362.3 1669.0,1362.5 1671.0,1362.6 1673.0,1362.7 1675.0,1362.8 1677.0,1362.9 1679.0,1363.0 1681.0,1363.1 1683.0,1363.2 1685.0,1363.3 1687.0,1363.4 1689.0,1363.5 1691.0,1363.6 1693.0,1363.7 1695.0,1363.8 1697.0,1363.9 1699.0,1363.9 1701.0,1364.0 1703.0,1364.1 1705.0,1364.1 1707.0,1364.2 1709.0,1364.3 1711.0,1364.3 1713.0,1364.4 1715.0,1364.4 1717.0,1364.5 1719.0,1364.5 1721.0,1364.6 1723.0,1364.6 1725.0,1364.7 1727.0,1364.7 1729.0,1364.8 1731.0,1364.8 1733.0,1364.9 1735.0,1364.9 1737.0,1364.9 1739.0,1365.0 1741.0,1365.0 1743.0,1365.0 1745.0,1365.1 1747.0,1365.1 1749.0,1365.1 1751.0,1365.2 1753.0,1365.2 1755.0,1365.2 1757.0,1365.2 1759.0,1365.3 1761.0,1365.3 1763.0,1365.3 1765.0,1365.3 1767.0,1365.3 1769.0,1365.4 1771.0,1365.4 1773.0,1365.4 1775.0,1365.4 1777.0,1365.4 1779.0,1365.5 1781.0,1365.5 1783.0,1365.5 1785.0,1365.5 1787.0,1365.5 1789.0,1365.5 1791.0,1365.5 1793.0,1365.6 1795.0,1365.6 1797.0,1365.6 1799.0,1365.6 1801.0,1365.6 1803.0,1365.6 1805.0,1365.6 1807.0,1365.6 1809.0,1365.6 1811.0,1365.7 1813.0,1365.7 1815.0,1365.7 1817.0,1365.7 1819.0,1365.7 1821.0,1365.7 1823.0,1365.7 1825.0,1365.7 1827.0,1365.7 1829.0,1365.7 1831.0,1365.7 1833.0,1365.7 1835.0,1365.8 1837.0,1365.8 1839.0,1365.8 1841.0,1365.8 1843.0,1365.8 1845.0,1365.8 1847.0,1365.8 1849.0,1365.8 1851.0,1365.8 1853.0,1365.8 1855.0,1365.8 1857.0,1365.8 1859.0,1365.8 1861.0,1365.8 1863.0,1365.8 1865.0,1365.8 1867.0,1365.9 1869.0,1365.9 1871.0,1365.9 1873.0,1365.9 1875.0,1365.9 1877.0,1365.9 1879.0,1365.9 1881.0,1365.9" stroke="#00f" stroke-width="8.2"/>
<polyline points="191.1,1363.1 193.1,1363.1 195.1,1363.1 197.1,1363.1 199.1,1363.1 201.1,1363.1 203.1,1363.1 205.1,1363.1 207.1,1363.1 209.1,1363.1 211.1,1363.1 213.1,1363.1 215.1,1363.2 217.1,1363.2 219.1,1363.2 221.1,1363.2 223.1,1363.2 225.1,1363.2 227.1,1363.2 229.1,1363.2 231.1,1363.2 233.1,1363.2 235.1,1363.2 237.1,1363.2 239.1,1363.2 241.1,1363.2 243.1,1363.2 245.1,1363.2 247.1,1363.2 249.1,1363.2 251.1,1363.2 253.1,1363.2 255.1,1363.2 257.1,1363.2 259.1,1363.3 261.1,1363.3 263.1,1363.3 265.1,1363.3 267.1,1363.3 269.1,1363.3 271.1,1363.3 273.1,1363.3 275.1,1363.3 277.1,1363.3 279.1,1363.3 281.1,1363.3 283.1,1363.3 285.1,1363.3 287.1,1363.3 289.1,1363.3 291.1,1363.3 293.1,1363.3 295.1,1363.3 297.1,1363.3 299.1,1363.3 301.1,1363.3 303.1,1363.4 305.1,1363.4 307.1,1363.4 309.1,1363.4 311.1,1363.4 313.1,1363.4 315.1,1363.4 317.1,1363.4 319.1,1363.4 321.1,1363.4 323.1,1363.4 325.1,1363.4 327.1,1363.4 329.1,1363.4 331.1,1363.4 333.1,1363.4 335.1,1363.4 337.1,1363.4 339.1,1363.4 341.1,1363.4 343.1,1363.4 345.1,1363.4 347.1,1363.5 349.1,1363.5 351.1,1363.5 353.1,1363.5 355.1,1363.5 357.1,1363.5 359.1,1363.5 361.1,1363.5 363.1,1363.5 365.1,1363.5 367.1,1363.5 369.1,1363.5 371.1,1363.5 373.1,1363.5 375.1,1363.5 377.1,1363.5 379.1,1363.5 381.1,1363.5 383.1,1363.5 385.1,1363.5 387.1,1363.5 389.1,1363.5 391.1,1363.5 393.1,1363.6 395.1,1363.6 397.1,1363.6 399.1,1363.6 401.1,1363.6 403.1,1363.6 405.1,1363.6 407.1,1363.6 409.1,1363.6 411.1,1363.6 413.1,1363.6 415.1,1363.6 417.1,1363.6 419.1,1363.6 421.1,1363.6 423.1,1363.6 425.1,1363.6 427.1,1363.6 429.1,1363.6 431.1,1363.6 433.1,1363.6 435.1,1363.6 437.1,1363.7 439.1,1363.7 441.1,1363.7 443.1,1363.7 445.1,1363.7 447.1,1363.7 449.1,1363.7 451.1,1363.7 453.1,1363.7 455.1,1363.7 457.1,1363.7 459.1,1363.7 461.1,1363.7 463.1,1363.7 465.1,1363.7 467.1,1363.7 469.1,1363.7 471.1,1363.7 473.1,1363.7 475.1,1363.7 477.1,1363.7 479.1,1363.7 481.1,1363.8 483.1,1363.8 485.1,1363.8 487.1,1363.8 489.1,1363.8 491.1,1363.8 493.1,1363.8 495.1,1363.8 497.1,1363.8 499.1,1363.8 501.1,1363.8 503.1,1363.8 505.1,1363.8 507.1,1363.8 509.1,1363.8 511.1,1363.8 513.1,1363.8 515.1,1363.8 517.1,1363.8 519.1,1363.8 521.1,1363.8 523.1,1363.8 525.1,1363.9 527.1,1363.9 529.1,1363.9 531.1,1363.9 533.1,1363.9 535.1,1363.9 537.1,1363.9 539.1,1363.9 541.1,1363.9 543.1,1363.9 545.1,1363.9 547.1,1363.9 549.1,1363.9 551.1,1363.9 553.1,1363.9 555.1,1363.9 557.1,1363.9 559.1,1363.9 561.1,1363.9 563.1,1363.9 565.1,1363.9 567.1,1363.9 569.1,1364.0 571.1,1364.0 573.1,1364.0 575.1,1364.0 577.1,1364.0 579.1,1364.0 581.1,1364.0 583.1,1364.0 585.1,1364.0 587.1,1364.0 589.1,1364.0 591.1,1364.0 593.1,1364.0 595.1,1364.0 597.1,1364.0 599.1,1364.0 601.1,1364.0 603.1,1364.0 605.1,1364.0 607.1,1364.0 609.1,1364.0 611.1,1364.0 613.1,1364.0 615.1,1364.1 617.1,1364.1 619.1,1364.1 621.1,1364.1 623.1,1364.1 625.1,1364.1 627.1,1364.1 629.1,1364.1 631.1,1364.1 633.1,1364.1 635.1,1364.1 637.1,1364.1 639.1,1364.1 641.1,1364.1 643.1,1364.1 645.1,1364.1 647.1,1364.1 649.1,1364.1 651.1,1364.1 653.1,1364.1 655.1,1364.1 657.1,1364.1 659.1,1364.2 661.1,1364.2 663.1,1364.2 665.1,1364.2 667.1,1364.2 669.1,1364.2 671.1,1364.2 673.1,1364.2 675.1,1364.2 677.1,1364.2 679.1,1364.2 681.1,1364.2 683.1,1364.2 685.1,1364.2 687.1,1364.2 689.1,1364.2 691.1,1364.2 693.1,1364.2 695.1,1364.2 697.1,1364.2 699.1,1364.2 701.1,1364.2 703.1,1364.3 705.1,1364.3 707.1,1364.3 709.1,1364.3 711.1,1364.3 713.1,1364.3 715.1,1364.3 717.1,1364.3 719.1,1364.3 721.1,1364.3 723.1,1364.3 725.1,1364.3 727.1,1364.3 729.1,1364.3 731.1,1364.3 733.1,1364.3 735.1,1364.3 737.1,1364.3 739.1,1364.3 741.1,1364.3 743.1,1364.3 745.1,1364.3 747.1,1364.4 749.1,1364.4 751.1,1364.4 753.1,1364.4 755.1,1364.4 757.1,1364.4 759.1,1364.4 761.1,1364.4 763.1,1364.4 765.1,1364.4 767.1,1364.4 769.1,1364.4 771.1,1364.4 773.1,1364.4 775.1,1364.4 777.1,1364.4 779.1,1364.4 781.1,1364.4 783.1,1364.4 785.1,1364.4 787.1,1364.4 789.1,1364.4 791.1,1364.4 793.1,1364.5 795.1,1364.5 797.1,1364.5 799.1,1364.5 801.1,1364.5 803.1,1364.5 805.1,1364.5 807.1,1364.5 809.1,1364.5 811.1,1364.5 813.1,1364.5 815.1,1364.5 817.1,1364.5 819.1,1364.5 821.1,1364.5 823.1,1364.5 825.1,1364.5 827.1,1364.5 829.1,1364.5 831.1,1364.5 833.1,1364.5 835.1,1364.5 837.1,1364.6 839.1,1364.6 841.1,1364.6 843.1,1364.6 845.1,1364.6 847.1,1364.6 849.1,1364.6 851.1,1364.6 853.1,1364.6 855.1,1364.6 857.1,1364.6 859.1,1364.6 861.1,1364.6 863.1,1364.6 865.1,1364.6 867.1,1364.6 869.1,1364.6 871.1,1364.6 873.1,1364.6 875.1,1364.6 877.1,1364.6 879.1,1364.6 881.1,1364.7 883.1,1364.7 885.1,1364.7 887.1,1364.7 889.1,1364.7 891.1,1364.7 893.1,1364.7 895.1,1364.7 897.1,1364.7 899.1,1364.7 901.1,1364.7 903.1,1364.7 905.1,1364.7 907.1,1364.7 909.1,1364.7 911.1,1364.7 913.1,1364.7 915.1,1364.7 917.1,1364.7 919.1,1364.7 921.1,1364.7 923.1,1364.7 925.1,1364.8 927.1,1364.8 929.1,1364.8 931.1,1364.8 933.1,1364.8 935.1,1364.8 937.1,1364.8 939.1,1364.8 941.1,1364.8 943.1,1364.8 945.1,1364.8 947.1,1364.8 949.1,1364.8 951.1,1364.8 953.1,1364.8 955.1,1364.8 957.1,1364.8 959.1,1364.8 961.1,1364.8 963.1,1364.8 965.1,1364.8 967.1,1364.8 969.1,1364.8 971.1,1364.9 973.1,1364.9 975.1,1364.9 977.1,1364.9 979.1,1364.9 981.1,1364.9 983.1,1364.9 985.1,1364.9 987.1,1364.9 989.1,1364.9 991.1,1364.9 993.1,1364.9 995.1,1364.9 997.1,1364.9 999.1,1364.9 1001.1,1364.9 1003.1,1364.9 1005.1,1364.9 1007.1,1364.9 1009.1,1364.9 1011.1,1364.9 1013.1,1364.9 1015.1,1365.0 1017.1,1365.0 1019.1,1365.0 1021.1,1365.0 1023.1,1365.0 1025.1,1365.0 1027.1,1365.0 1029.1,1365.0 1031.1,1365.0 1033.1,1365.0 1035.1,1365.0 1037.0,1365.0 1039.0,1365.0 1041.0,1365.0 1043.0,1365.0 1045.0,1365.0 1047.0,1365.0 1049.0,1365.0 1051.0,1365.0 1053.0,1365.0 1055.0,1365.0 1057.0,1365.0 1059.0,1365.1 1061.0,1365.1 1063.0,1365.1 1065.0,1365.1 1067.0,1365.1 1069.0,1365.1 1071.0,1365.1 1073.0,1365.1 1075.0,1365.1 1077.0,1365.1 1079.0,1365.1 1081.0,1365.1 1083.0,1365.1 1085.0,1365.1 1087.0,1365.1 1089.0,1365.1 1091.0,1365.1 1093.0,1365.1 1095.0,1365.1 1097.0,1365.1 1099.0,1365.1 1101.0,1365.1 1103.0,1365.2 1105.0,1365.2 1107.0,1365.2 1109.0,1365.2 1111.0,1365.2 1113.0,1365.2 1115.0,1365.2 1117.0,1365.2 1119.0,1365.2 1121.0,1365.2 1123.0,1365.2 1125.0,1365.2 1127.0,1365.2 1129.0,1365.2 1131.0,1365.2 1133.0,1365.2 1135.0,1365.2 1137.0,1365.2 1139.0,1365.2 1141.0,1365.2 1143.0,1365.2 1145.0,1365.2 1147.0,1365.2 1149.0,1365.3 1151.0,1365.3 1153.0,1365.3 1155.0,1365.3 1157.0,1365.3 1159.0,1365.3 1161.0,1365.3 1163.0,1365.3 1165.0,1365.3 1167.0,1365.3 1169.0,1365.3 1171.0,1365.3 1173.0,1365.3 1175.0,1365.3 1177.0,1365.3 1179.0,1365.3 1181.0,1365.3 1183.0,1365.3 1185.0,1365.3 1187.0,1365.3 1189.0,1365.3 1191.0,1365.3 1193.0,1365.4 1195.0,1365.4 1197.0,1365.4 1199.0,1365.4 1201.0,1365.4 1203.0,1365.4 1205.0,1365.4 1207.0,1365.4 1209.0,1365.4 1211.0,1365.4 1213.0,1365.4 1215.0,1365.4 1217.0,1365.4 1219.0,1365.4 1221.0,1365.4 1223.0,1365.4 1225.0,1365.4 1227.0,1365.4 1229.0,1365.4 1231.0,1365.4 1233.0,1365.4 1235.0,1365.4 1237.0,1365.5 1239.0,1365.5 1241.0,1365.5 1243.0,1365.5 1245.0,1365.5 1247.0,1365.5 1249.0,1365.5 1251.0,1365.5 1253.0,1365.5 1255.0,1365.5 1257.0,1365.5 1259.0,1365.5 1261.0,1365.5 1263.0,1365.5 1265.0,1365.5 1267.0,1365.5 1269.0,1365.5 1271.0,1365.5 1273.0,1365.5 1275.0,1365.5 1277.0,1365.5 1279.0,1365.5 1281.0,1365.6 1283.0,1365.6 1285.0,1365.6 1287.0,1365.6 1289.0,1365.6 1291.0,1365.6 1293.0,1365.6 1295.0,1365.6 1297.0,1365.6 1299.0,1365.6 1301.0,1365.6 1303.0,1365.6 1305.0,1365.6 1307.0,1365.6 1309.0,1365.6 1311.0,1365.6 1313.0,1365.6 1315.0,1365.6 1317.0,1365.6 1319.0,1365.6 1321.0,1365.6 1323.0,1365.6 1325.0,1365.6 1327.0,1365.7 1329.0,1365.7 1331.0,1365.7 1333.0,1365.7 1335.0,1365.7 1337.0,1365.7 1339.0,1365.7 1341.0,1365.7 1343.0,1365.7 1345.0,1365.7 1347.0,1365.7 1349.0,1365.7 1351.0,1365.7 1353.0,1365.7 1355.0,1365.7 1357.0,1365.7 1359.0,1365.7 1361.0,1365.7 1363.0,1365.7 1365.0,1365.7 1367.0,1365.7 1369.0,1365.7 1371.0,1365.8 1373.0,1365.8 1375.0,1365.8 1377.0,1365.8 1379.0,1365.8 1381.0,1365.8 1383.0,1365.8 1385.0,1365.8 1387.0,1365.8 1389.0,1365.8 1391.0,1365.8 1393.0,1365.8 1395.0,1365.8 1397.0,1365.8 1399.0,1365.8 1401.0,1365.8 1403.0,1365.8 1405.0,1365.8 1407.0,1365.8 1409.0,1365.8 1411.0,1365.8 1413.0,1365.8 1415.0,1365.9 1417.0,1365.9 1419.0,1365.9 1421.0,1365.9 1423.0,1365.9 1425.0,1365.9 1427.0,1365.9 1429.0,1365.9 1431.0,1365.9 1433.0,1365.9 1435.0,1365.9 1437.0,1365.9 1439.0,1365.9 1441.0,1365.9 1443.0,1365.9 1445.0,1365.9 1447.0,1365.9 1449.0,1365.9 1451.0,1365.9 1453.0,1365.9 1455.0,1365.9 1457.0,1365.9 1459.0,1366.0 1461.0,1366.0 1463.0,1366.0 1465.0,1366.0 1467.0,1366.0 1469.0,1366.0 1471.0,1366.0 1473.0,1366.0 1475.0,1366.0 1477.0,1366.0 1479.0,1366.0 1481.0,1366.0 1483.0,1366.0 1485.0,1366.0 1487.0,1366.0 1489.0,1366.0 1491.0,1366.0 1493.0,1366.0 1495.0,1366.0 1497.0,1366.0 1499.0,1366.0 1501.0,1366.0 1503.0,1366.1 1505.0,1366.1 1507.0,1366.1 1509.0,1366.1 1511.0,1366.1 1513.0,1366.1 1515.0,1366.1 1517.0,1366.1 1519.0,1366.1 1521.0,1366.1 1523.0,1366.1 1525.0,1366.1 1527.0,1366.1 1529.0,1366.1 1531.0,1366.1 1533.0,1366.1 1535.0,1366.1 1537.0,1366.1 1539.0,1366.1 1541.0,1366.1 1543.0,1366.1 1545.0,1366.1 1547.0,1366.1 1549.0,1366.2 1551.0,1366.2 1553.0,1366.2 1555.0,1366.2 1557.0,1366.2 1559.0,1366.2 1561.0,1366.2 1563.0,1366.2 1565.0,1366.2 1567.0,1366.2 1569.0,1366.2 1571.0,1366.2 1573.0,1366.2 1575.0,1366.2 1577.0,1366.2 1579.0,1366.2 1581.0,1366.2 1583.0,1366.2 1585.0,1366.2 1587.0,1366.2 1589.0,1366.2 1591.0,1366.2 1593.0,1366.3 1595.0,1366.3 1597.0,1366.3 1599.0,1366.3 1601.0,1366.3 1603.0,1366.3 1605.0,1366.3 1607.0,1366.3 1609.0,1366.3 1611.0,1366.3 1613.0,1366.3 1615.0,1366.3 1617.0,1366.3 1619.0,1366.3 1621.0,1366.3 1623.0,1366.3 1625.0,1366.3 1627.0,1366.3 1629.0,1366.3 1631.0,1366.3 1633.0,1366.3 1635.0,1366.3 1637.0,1366.4 1639.0,1366.4 1641.0,1366.4 1643.0,1366.4 1645.0,1366.4 1647.0,1366.4 1649.0,1366.4 1651.0,1366.4 1653.0,1366.4 1655.0,1366.4 1657.0,1366.4 1659.0,1366.4 1661.0,1366.4 1663.0,1366.4 1665.0,1366.4 1667.0,1366.4 1669.0,1366.4 1671.0,1366.4 1673.0,1366.4 1675.0,1366.4 1677.0,1366.4 1679.0,1366.4 1681.0,1366.5 1683.0,1366.5 1685.0,1366.5 1687.0,1366.5 1689.0,1366.5 1691.0,1366.5 1693.0,1366.5 1695.0,1366.5 1697.0,1366.5 1699.0,1366.5 1701.0,1366.5 1703.0,1366.5 1705.0,1366.5 1707.0,1366.5 1709.0,1366.5 1711.0,1366.5 1713.0,1366.5 1715.0,1366.5 1717.0,1366.5 1719.0,1366.5 1721.0,1366.5 1723.0,1366.5 1725.0,1366.5 1727.0,1366.6 1729.0,1366.6 1731.0,1366.6 1733.0,1366.6 1735.0,1366.6 1737.0,1366.6 1739.0,1366.6 1741.0,1366.6 1743.0,1366.6 1745.0,1366.6 1747.0,1366.6 1749.0,1366.6 1751.0,1366.6 1753.0,1366.6 1755.0,1366.6 1757.0,1366.6 1759.0,1366.6 1761.0,1366.6 1763.0,1366.6 1765.0,1366.6 1767.0,1366.6 1769.0,1366.6 1771.0,1366.7 1773.0,1366.7 1775.0,1366.7 1777.0,1366.7 1779.0,1366.7 1781.0,1366.7 1783.0,1366.7 1785.0,1366.7 1787.0,1366.7 1789.0,1366.7 1791.0,1366.7 1793.0,1366.7 1795.0,1366.7 1797.0,1366.7 1799.0,1366.7 1801.0,1366.7 1803.0,1366.7 1805.0,1366.7 1807.0,1366.7 1809.0,1366.7 1811.0,1366.7 1813.0,1366.7 1815.0,1366.8 1817.0,1366.8 1819.0,1366.8 1821.0,1366.8 1823.0,1366.8 1825.0,1366.8 1827.0,1366.8 1829.0,1366.8 1831.0,1366.8 1833.0,1366.8 1835.0,1366.8 1837.0,1366.8 1839.0,1366.8 1841.0,1366.8 1843.0,1366.8 1845.0,1366.8 1847.0,1366.8 1849.0,1366.8 1851.0,1366.8 1853.0,1366.8 1855.0,1366.8 1857.0,1366.8 1859.0,1366.9 1861.0,1366.9 1863.0,1366.9 1865.0,1366.9 1867.0,1366.9 1869.0,1366.9 1871.0,1366.9 1873.0,1366.9 1875.0,1366.9 1877.0,1366.9 1879.0,1366.9 1881.0,1366.9" stroke="#3cb371" stroke-width="2.4"/>
<polyline points="191.1,1362.1 193.1,1362.1 195.1,1362.1 197.1,1362.1 199.1,1362.1 201.1,1362.1 203.1,1362.1 205.1,1362.1 207.1,1362.1 209.1,1362.1 211.1,1362.1 213.1,1362.1 215.1,1362.2 217.1,1362.2 219.1,1362.2 221.1,1362.2 223.1,1362.2 225.1,1362.2 227.1,1362.2 229.1,1362.2 231.1,1362.2 233.1,1362.2 235.1,1362.2 237.1,1362.2 239.1,1362.2 241.1,1362.2 243.1,1362.2 245.1,1362.2 247.1,1362.2 249.1,1362.2 251.1,1362.2 253.1,1362.2 255.1,1362.2 257.1,1362.2 259.1,1362.3 261.1,1362.3 263.1,1362.3 265.1,1362.3 267.1,1362.3 269.1,1362.3 271.1,1362.3 273.1,1362.3 275.1,1362.3 277.1,1362.3 279.1,1362.3 281.1,1362.3 283.1,1362.3 285.1,1362.3 287.1,1362.3 289.1,1362.3 291.1,1362.3 293.1,1362.3 295.1,1362.3 297.1,1362.3 299.1,1362.3 301.1,1362.3 303.1,1362.4 305.1,1362.4 307.1,1362.4 309.1,1362.4 311.1,1362.4 313.1,1362.4 315.1,1362.4 317.1,1362.4 319.1,1362.4 321.1,1362.4 323.1,1362.4 325.1,1362.4 327.1,1362.4 329.1,1362.4 331.1,1362.4 333.1,1362.4 335.1,1362.4 337.1,1362.4 339.1,1362.4 341.1,1362.4 343.1,1362.4 345.1,1362.4 347.1,1362.5 349.1,1362.5 351.1,1362.5 353.1,1362.5 355.1,1362.5 357.1,1362.5 359.1,1362.5 361.1,1362.5 363.1,1362.5 365.1,1362.5 367.1,1362.5 369.1,1362.5 371.1,1362.5 373.1,1362.5 375.1,1362.5 377.1,1362.5 379.1,1362.5 381.1,1362.5 383.1,1362.5 385.1,1362.5 387.1,1362.5 389.1,1362.5 391.1,1362.5 393.1,1362.6 395.1,1362.6 397.1,1362.6 399.1,1362.6 401.1,1362.6 403.1,1362.6 405.1,1362.6 407.1,1362.6 409.1,1362.6 411.1,1362.6 413.1,1362.6 415.1,1362.6 417.1,1362.6 419.1,1362.6 421.1,1362.6 423.1,1362.6 425.1,1362.6 427.1,1362.6 429.1,1362.6 431.1,1362.6 433.1,1362.6 435.1,1362.6 437.1,1362.6 439.1,1362.6 441.1,1362.7 443.1,1362.7 445.1,1362.7 447.1,1362.7 449.1,1362.7 451.1,1362.7 453.1,1362.7 455.1,1362.7 457.1,1362.7 459.1,1362.7 461.1,1362.7 463.1,1362.7 465.1,1362.7 467.1,1362.7 469.1,1362.7 471.1,1362.7 473.1,1362.7 475.1,1362.7 477.1,1362.7 479.1,1362.7 481.1,1362.7 483.1,1362.7 485.1,1362.7 487.1,1362.7 489.1,1362.7 491.1,1362.7 493.1,1362.7 495.1,1362.7 497.1,1362.7 499.1,1362.8 501.1,1362.8 503.1,1362.8 505.1,1362.8 507.1,1362.8 509.1,1362.8 511.1,1362.8 513.1,1362.8 515.1,1362.8 517.1,1362.8 519.1,1362.8 521.1,1362.8 523.1,1362.8 525.1,1362.8 527.1,1362.8 529.1,1362.8 531.1,1362.8 533.1,1362.8 535.1,1362.8 537.1,1362.8 539.1,1362.8 541.1,1362.8 543.1,1362.8 545.1,1362.8 547.1,1362.8 549.1,1362.8 551.1,1362.8 553.1,1362.8 555.1,1362.8 557.1,1362.8 559.1,1362.8 561.1,1362.8 563.1,1362.8 565.1,1362.8 567.1,1362.7 569.1,1362.7 571.1,1362.7 573.1,1362.7 575.1,1362.7 577.1,1362.7 579.1,1362.7 581.1,1362.7 583.1,1362.7 585.1,1362.7 587.1,1362.7 589.1,1362.7 591.1,1362.7 593.1,1362.7 595.1,1362.7 597.1,1362.6 599.1,1362.6 601.1,1362.6 603.1,1362.6 605.1,1362.6 607.1,1362.6 609.1,1362.6 611.1,1362.6 613.1,1362.5 615.1,1362.5 617.1,1362.5 619.1,1362.5 621.1,1362.5 623.1,1362.4 625.1,1362.4 627.1,1362.4 629.1,1362.4 631.1,1362.4 633.1,1362.3 635.1,1362.3 637.1,1362.3 639.1,1362.3 641.1,1362.2 643.1,1362.2 645.1,1362.2 647.1,1362.1 649.1,1362.1 651.1,1362.1 653.1,1362.0 655.1,1362.0 657.1,1362.0 659.1,1361.9 661.1,1361.9 663.1,1361.8 665.1,1361.8 667.1,1361.8 669.1,1361.7 671.1,1361.7 673.1,1361.6 675.1,1361.6 677.1,1361.5 679.1,1361.5 681.1,1361.4 683.1,1361.3 685.1,1361.3 687.1,1361.2 689.1,1361.2 691.1,1361.1 693.1,1361.0 695.1,1361.0 697.1,1360.9 699.1,1360.8 701.1,1360.7 703.1,1360.7 705.1,1360.6 707.1,1360.5 709.1,1360.4 711.1,1360.3 713.1,1360.2 715.1,1360.1 717.1,1360.0 719.1,1359.9 721.1,1359.8 723.1,1359.7 725.1,1359.6 727.1,1359.5 729.1,1359.4 731.1,1359.3 733.1,1359.2 735.1,1359.0 737.1,1358.9 739.1,1358.8 741.1,1358.7 743.1,1358.5 745.1,1358.4 747.1,1358.2 749.1,1358.1 751.1,1357.9 753.1,1357.8 755.1,1357.6 757.1,1357.5 759.1,1357.3 761.1,1357.1 763.1,1356.9 765.1,1356.8 767.1,1356.6 769.1,1356.4 771.1,1356.2 773.1,1356.0 775.1,1355.8 777.1,1355.6 779.1,1355.4 781.1,1355.1 783.1,1354.9 785.1,1354.7 787.1,1354.5 789.1,1354.2 791.1,1354.0 793.1,1353.7 795.1,1353.5 797.1,1353.2 799.1,1352.9 801.1,1352.6 803.1,1352.4 805.1,1352.1 807.1,1351.8 809.1,1351.5 811.1,1351.2 813.1,1350.8 815.1,1350.5 817.1,1350.2 819.1,1349.8 821.1,1349.5 823.1,1349.1 825.1,1348.8 827.1,1348.4 829.1,1348.0 831.1,1347.6 833.1,1347.2 835.1,1346.8 837.1,1346.4 839.1,1345.9 841.1,1345.5 843.1,1345.1 845.1,1344.6 847.1,1344.1 849.1,1343.6 851.1,1343.1 853.1,1342.6 855.1,1342.1 857.1,1341.6 859.1,1341.0 861.1,1340.5 863.1,1339.9 865.1,1339.3 867.1,1338.7 869.1,1338.1 871.1,1337.5 873.1,1336.9 875.1,1336.2 877.1,1335.5 879.1,1334.8 881.1,1334.1 883.1,1333.4 885.1,1332.7 887.1,1331.9 889.1,1331.2 891.1,1330.4 893.1,1329.6 895.1,1328.7 897.1,1327.9 899.1,1327.0 901.1,1326.1 903.1,1325.2 905.1,1324.3 907.1,1323.4 909.1,1322.4 911.1,1321.4 913.1,1320.4 915.1,1319.4 917.1,1318.3 919.1,1317.2 921.1,1316.1 923.1,1315.0 925.1,1313.9 927.1,1312.7 929.1,1311.5 931.1,1310.3 933.1,1309.1 935.1,1307.8 937.1,1306.5 939.1,1305.2 941.1,1303.9 943.1,1302.5 945.1,1301.1 947.1,1299.7 949.1,1298.3 951.1,1296.8 953.1,1295.3 955.1,1293.8 957.1,1292.3 959.1,1290.8 961.1,1289.2 963.1,1287.6 965.1,1286.0 967.1,1284.3 969.1,1282.6 971.1,1281.0 973.1,1279.2 975.1,1277.5 977.1,1275.8 979.1,1274.0 981.1,1272.2 983.1,1270.4 985.1,1268.6 987.1,1266.7 989.1,1264.9 991.1,1263.0 993.1,1261.1 995.1,1259.2 997.1,1257.3 999.1,1255.4 1001.1,1253.5 1003.1,1251.5 1005.1,1249.6 1007.1,1247.6 1009.1,1245.7 1011.1,1243.7 1013.1,1241.8 1015.1,1239.8 1017.1,1237.8 1019.1,1235.9 1021.1,1233.9 1023.1,1232.0 1025.1,1230.0 1027.1,1228.1 1029.1,1226.2 1031.1,1224.3 1033.1,1222.4 1035.1,1220.5 1037.0,1218.6 1039.0,1216.8 1041.0,1215.0 1043.0,1213.1 1045.0,1211.4 1047.0,1209.6 1049.0,1207.9 1051.0,1206.2 1053.0,1204.5 1055.0,1202.9 1057.0,1201.2 1059.0,1199.7 1061.0,1198.1 1063.0,1196.6 1065.0,1195.2 1067.0,1193.7 1069.0,1192.4 1071.0,1191.0 1073.0,1189.7 1075.0,1188.5 1077.0,1187.3 1079.0,1186.1 1081.0,1185.0 1083.0,1184.0 1085.0,1183.0 1087.0,1182.0 1089.0,1181.2 1091.0,1180.3 1093.0,1179.5 1095.0,1178.8 1097.0,1178.1 1099.0,1177.5 1101.0,1176.9 1103.0,1176.4 1105.0,1176.0 1107.0,1175.6 1109.0,1175.3 1111.0,1175.0 1113.0,1174.8 1115.0,1174.6 1117.0,1174.5 1119.0,1174.4 1121.0,1174.3 1123.0,1174.4 1125.0,1174.4 1127.0,1174.5 1129.0,1174.6 1131.0,1174.8 1133.0,1175.1 1135.0,1175.3 1137.0,1175.6 1139.0,1176.0 1141.0,1176.4 1143.0,1176.8 1145.0,1177.3 1147.0,1177.8 1149.0,1178.4 1151.0,1178.9 1153.0,1179.5 1155.0,1180.2 1157.0,1180.9 1159.0,1181.6 1161.0,1182.3 1163.0,1183.1 1165.0,1183.9 1167.0,1184.7 1169.0,1185.6 1171.0,1186.4 1173.0,1187.3 1175.0,1188.2 1177.0,1189.2 1179.0,1190.1 1181.0,1191.1 1183.0,1192.0 1185.0,1193.0 1187.0,1194.0 1189.0,1195.0 1191.0,1196.1 1193.0,1197.1 1195.0,1198.1 1197.0,1199.2 1199.0,1200.2 1201.0,1201.3 1203.0,1202.3 1205.0,1203.3 1207.0,1204.4 1209.0,1205.4 1211.0,1206.5 1213.0,1207.5 1215.0,1208.5 1217.0,1209.5 1219.0,1210.5 1221.0,1211.5 1223.0,1212.5 1225.0,1213.4 1227.0,1214.4 1229.0,1215.3 1231.0,1216.2 1233.0,1217.1 1235.0,1218.0 1237.0,1218.8 1239.0,1219.7 1241.0,1220.5 1243.0,1221.3 1245.0,1222.1 1247.0,1222.8 1249.0,1223.6 1251.0,1224.3 1253.0,1225.0 1255.0,1225.6 1257.0,1226.2 1259.0,1226.9 1261.0,1227.5 1263.0,1228.0 1265.0,1228.6 1267.0,1229.1 1269.0,1229.6 1271.0,1230.0 1273.0,1230.5 1275.0,1230.9 1277.0,1231.3 1279.0,1231.7 1281.0,1232.1 1283.0,1232.4 1285.0,1232.7 1287.0,1233.0 1289.0,1233.3 1291.0,1233.6 1293.0,1233.8 1295.0,1234.1 1297.0,1234.3 1299.0,1234.5 1301.0,1234.7 1303.0,1234.9 1305.0,1235.1 1307.0,1235.3 1309.0,1235.4 1311.0,1235.6 1313.0,1235.7 1315.0,1235.9 1317.0,1236.0 1319.0,1236.2 1321.0,1236.3 1323.0,1236.5 1325.0,1236.6 1327.0,1236.8 1329.0,1236.9 1331.0,1237.1 1333.0,1237.3 1335.0,1237.5 1337.0,1237.7 1339.0,1237.9 1341.0,1238.1 1343.0,1238.4 1345.0,1238.6 1347.0,1238.9 1349.0,1239.2 1351.0,1239.5 1353.0,1239.8 1355.0,1240.2 1357.0,1240.5 1359.0,1240.9 1361.0,1241.3 1363.0,1241.8 1365.0,1242.2 1367.0,1242.7 1369.0,1243.2 1371.0,1243.8 1373.0,1244.3 1375.0,1244.9 1377.0,1245.5 1379.0,1246.2 1381.0,1246.8 1383.0,1247.5 1385.0,1248.2 1387.0,1249.0 1389.0,1249.7 1391.0,1250.5 1393.0,1251.3 1395.0,1252.2 1397.0,1253.0 1399.0,1253.9 1401.0,1254.8 1403.0,1255.8 1405.0,1256.7 1407.0,1257.7 1409.0,1258.7 1411.0,1259.8 1413.0,1260.8 1415.0,1261.9 1417.0,1263.0 1419.0,1264.1 1421.0,1265.2 1423.0,1266.3 1425.0,1267.5 1427.0,1268.7 1429.0,1269.9 1431.0,1271.1 1433.0,1272.3 1435.0,1273.5 1437.0,1274.8 1439.0,1276.0 1441.0,1277.3 1443.0,1278.6 1445.0,1279.9 1447.0,1281.1 1449.0,1282.4 1451.0,1283.7 1453.0,1285.0 1455.0,1286.4 1457.0,1287.7 1459.0,1289.0 1461.0,1290.3 1463.0,1291.6 1465.0,1292.9 1467.0,1294.2 1469.0,1295.5 1471.0,1296.8 1473.0,1298.1 1475.0,1299.4 1477.0,1300.7 1479.0,1302.0 1481.0,1303.3 1483.0,1304.5 1485.0,1305.8 1487.0,1307.0 1489.0,1308.3 1491.0,1309.5 1493.0,1310.7 1495.0,1311.9 1497.0,1313.1 1499.0,1314.3 1501.0,1315.4 1503.0,1316.6 1505.0,1317.7 1507.0,1318.8 1509.0,1319.9 1511.0,1321.0 1513.0,1322.1 1515.0,1323.2 1517.0,1324.2 1519.0,1325.2 1521.0,1326.2 1523.0,1327.2 1525.0,1328.2 1527.0,1329.2 1529.0,1330.1 1531.0,1331.0 1533.0,1331.9 1535.0,1332.8 1537.0,1333.7 1539.0,1334.6 1541.0,1335.4 1543.0,1336.2 1545.0,1337.0 1547.0,1337.8 1549.0,1338.6 1551.0,1339.4 1553.0,1340.1 1555.0,1340.8 1557.0,1341.5 1559.0,1342.2 1561.0,1342.9 1563.0,1343.6 1565.0,1344.2 1567.0,1344.8 1569.0,1345.5 1571.0,1346.1 1573.0,1346.6 1575.0,1347.2 1577.0,1347.8 1579.0,1348.3 1581.0,1348.8 1583.0,1349.4 1585.0,1349.9 1587.0,1350.3 1589.0,1350.8 1591.0,1351.3 1593.0,1351.7 1595.0,1352.2 1597.0,1352.6 1599.0,1353.0 1601.0,1353.4 1603.0,1353.8 1605.0,1354.2 1607.0,1354.5 1609.0,1354.9 1611.0,1355.2 1613.0,1355.6 1615.0,1355.9 1617.0,1356.2 1619.0,1356.5 1621.0,1356.8 1623.0,1357.1 1625.0,1357.4 1627.0,1357.7 1629.0,1357.9 1631.0,1358.2 1633.0,1358.5 1635.0,1358.7 1637.0,1358.9 1639.0,1359.2 1641.0,1359.4 1643.0,1359.6 1645.0,1359.8 1647.0,1360.0 1649.0,1360.2 1651.0,1360.4 1653.0,1360.6 1655.0,1360.7 1657.0,1360.9 1659.0,1361.1 1661.0,1361.2 1663.0,1361.4 1665.0,1361.5 1667.0,1361.7 1669.0,1361.8 1671.0,1362.0 1673.0,1362.1 1675.0,1362.2 1677.0,1362.3 1679.0,1362.5 1681.0,1362.6 1683.0,1362.7 1685.0,1362.8 1687.0,1362.9 1689.0,1363.0 1691.0,1363.1 1693.0,1363.2 1695.0,1363.3 1697.0,1363.4 1699.0,1363.4 1701.0,1363.5 1703.0,1363.6 1705.0,1363.7 1707.0,1363.8 1709.0,1363.8 1711.0,1363.9 1713.0,1364.0 1715.0,1364.0 1717.0,1364.1 1719.0,1364.1 1721.0,1364.2 1723.0,1364.3 1725.0,1364.3 1727.0,1364.4 1729.0,1364.4 1731.0,1364.5 1733.0,1364.5 1735.0,1364.6 1737.0,1364.6 1739.0,1364.6 1741.0,1364.7 1743.0,1364.7 1745.0,1364.8 1747.0,1364.8 1749.0,1364.8 1751.0,1364.9 1753.0,1364.9 1755.0,1364.9 1757.0,1365.0 1759.0,1365.0 1761.0,1365.0 1763.0,1365.0 1765.0,1365.1 1767.0,1365.1 1769.0,1365.1 1771.0,1365.1 1773.0,1365.2 1775.0,1365.2 1777.0,1365.2 1779.0,1365.2 1781.0,1365.3 1783.0,1365.3 1785.0,1365.3 1787.0,1365.3 1789.0,1365.3 1791.0,1365.4 1793.0,1365.4 1795.0,1365.4 1797.0,1365.4 1799.0,1365.4 1801.0,1365.4 1803.0,1365.4 1805.0,1365.5 1807.0,1365.5 1809.0,1365.5 1811.0,1365.5 1813.0,1365.5 1815.0,1365.5 1817.0,1365.5 1819.0,1365.6 1821.0,1365.6 1823.0,1365.6 1825.0,1365.6 1827.0,1365.6 1829.0,1365.6 1831.0,1365.6 1833.0,1365.6 1835.0,1365.6 1837.0,1365.7 1839.0,1365.7 1841.0,1365.7 1843.0,1365.7 1845.0,1365.7 1847.0,1365.7 1849.0,1365.7 1851.0,1365.7 1853.0,1365.7 1855.0,1365.7 1857.0,1365.7 1859.0,1365.7 1861.0,1365.8 1863.0,1365.8 1865.0,1365.8 1867.0,1365.8 1869.0,1365.8 1871.0,1365.8 1873.0,1365.8 1875.0,1365.8 1877.0,1365.8 1879.0,1365.8 1881.0,1365.8" stroke="#f0f" stroke-width="7.8"/>
</g>
<line x1="1053.6" y1="269.5" x2="1157.4" y2="411.0" stroke="#f00" stroke-width="7.6"/><polygon points="1175.7,436.0 1150.7,415.9 1164.0,406.1" fill="#f00" stroke="#f00" stroke-width="7.0" stroke-linejoin="round"/>
<line x1="1511.0" y1="534.2" x2="1415.0" y2="665.6" stroke="#00f" stroke-width="7.6"/><polygon points="1396.8,690.7 1408.4,660.8 1421.7,670.5" fill="#00f" stroke="#00f" stroke-width="7.0" stroke-linejoin="round"/>
<line x1="1005.0" y1="1205.5" x2="1068.7" y2="1287.3" stroke="#f00" stroke-width="7.6"/><polygon points="1087.7,1311.7 1062.2,1292.4 1075.2,1282.2" fill="#f00" stroke="#f00" stroke-width="7.0" stroke-linejoin="round"/>
<line x1="1469.0" y1="1207.4" x2="1399.0" y2="1289.5" stroke="#00f" stroke-width="7.6"/><polygon points="1378.9,1313.1 1392.7,1284.2 1405.3,1294.9" fill="#00f" stroke="#00f" stroke-width="7.0" stroke-linejoin="round"/>
<g stroke="#000" stroke-width="6" fill="none" stroke-linecap="butt">
<rect x="186" y="58" width="1702" height="1390"/>
<line x1="300.0" y1="1445" x2="300.0" y2="1421"/>
<line x1="413.0" y1="1445" x2="413.0" y2="1434"/>
<line x1="527.0" y1="1445" x2="527.0" y2="1421"/>
<line x1="640.0" y1="1445" x2="640.0" y2="1434"/>
<line x1="754.0" y1="1445" x2="754.0" y2="1421"/>
<line x1="867.0" y1="1445" x2="867.0" y2="1434"/>
<line x1="981.0" y1="1445" x2="981.0" y2="1421"/>
<line x1="1094.0" y1="1445" x2="1094.0" y2="1434"/>
<line x1="1208.0" y1="1445" x2="1208.0" y2="1421"/>
<line x1="1321.0" y1="1445" x2="1321.0" y2="1434"/>
<line x1="1435.0" y1="1445" x2="1435.0" y2="1421"/>
<line x1="1548.0" y1="1445" x2="1548.0" y2="1434"/>
<line x1="1662.0" y1="1445" x2="1662.0" y2="1421"/>
<line x1="1775.0" y1="1445" x2="1775.0" y2="1434"/>
</g>
<g font-family="'Liberation Serif', 'Noto Serif CJK SC', serif" fill="#000">
<g><text transform="translate(257.32,1528.30) scale(0.4829,0.6256)" font-size="100" stroke="#000" stroke-width="3.61" stroke-linejoin="round">1</text><text transform="translate(284.50,1527.70) scale(0.5266,0.6147)" font-size="100" stroke="#000" stroke-width="3.50" stroke-linejoin="round">6</text><text transform="translate(314.15,1527.69) scale(0.5536,0.6215)" font-size="100" stroke="#000" stroke-width="3.40" stroke-linejoin="round">5</text></g>
<g><text transform="translate(484.26,1528.30) scale(0.4829,0.6256)" font-size="100" stroke="#000" stroke-width="3.61" stroke-linejoin="round">1</text><text transform="translate(511.44,1527.70) scale(0.5266,0.6147)" font-size="100" stroke="#000" stroke-width="3.50" stroke-linejoin="round">6</text><text transform="translate(542.04,1527.70) scale(0.5266,0.6147)" font-size="100" stroke="#000" stroke-width="3.50" stroke-linejoin="round">6</text></g>
<g><text transform="translate(711.19,1528.30) scale(0.4829,0.6256)" font-size="100" stroke="#000" stroke-width="3.61" stroke-linejoin="round">1</text><text transform="translate(738.37,1527.70) scale(0.5266,0.6147)" font-size="100" stroke="#000" stroke-width="3.50" stroke-linejoin="round">6</text><text transform="translate(765.58,1528.30) scale(0.5848,0.6307)" font-size="100" stroke="#000" stroke-width="3.29" stroke-linejoin="round">7</text></g>
<g><text transform="translate(938.12,1528.30) scale(0.4829,0.6256)" font-size="100" stroke="#000" stroke-width="3.61" stroke-linejoin="round">1</text><text transform="translate(965.30,1527.70) scale(0.5266,0.6147)" font-size="100" stroke="#000" stroke-width="3.50" stroke-linejoin="round">6</text><text transform="translate(996.09,1527.70) scale(0.5450,0.6120)" font-size="100" stroke="#000" stroke-width="3.46" stroke-linejoin="round">8</text></g>
<g><text transform="translate(1165.06,1528.30) scale(0.4829,0.6256)" font-size="100" stroke="#000" stroke-width="3.61" stroke-linejoin="round">1</text><text transform="translate(1192.24,1527.70) scale(0.5266,0.6147)" font-size="100" stroke="#000" stroke-width="3.50" stroke-linejoin="round">6</text><text transform="translate(1222.59,1527.70) scale(0.5296,0.6147)" font-size="100" stroke="#000" stroke-width="3.50" stroke-linejoin="round">9</text></g>
<g><text transform="translate(1391.99,1528.30) scale(0.4829,0.6256)" font-size="100" stroke="#000" stroke-width="3.61" stroke-linejoin="round">1</text><text transform="translate(1415.78,1528.30) scale(0.5848,0.6307)" font-size="100" stroke="#000" stroke-width="3.29" stroke-linejoin="round">7</text><text transform="translate(1449.10,1527.70) scale(0.5592,0.6120)" font-size="100" stroke="#000" stroke-width="3.42" stroke-linejoin="round">0</text></g>
<g><text transform="translate(1620.42,1528.30) scale(0.4829,0.6256)" font-size="100" stroke="#000" stroke-width="3.61" stroke-linejoin="round">1</text><text transform="translate(1644.21,1528.30) scale(0.5848,0.6307)" font-size="100" stroke="#000" stroke-width="3.29" stroke-linejoin="round">7</text><text transform="translate(1678.62,1528.30) scale(0.4829,0.6256)" font-size="100" stroke="#000" stroke-width="3.61" stroke-linejoin="round">1</text></g>
<g><text transform="translate(1845.86,1528.30) scale(0.4829,0.6256)" font-size="100" stroke="#000" stroke-width="3.61" stroke-linejoin="round">1</text><text transform="translate(1869.64,1528.30) scale(0.5848,0.6307)" font-size="100" stroke="#000" stroke-width="3.29" stroke-linejoin="round">7</text><text transform="translate(1902.76,1528.30) scale(0.5563,0.6238)" font-size="100" stroke="#000" stroke-width="3.39" stroke-linejoin="round">2</text></g>
<text x="1037.6" y="1628.8" font-size="72.8" font-weight="bold" text-anchor="middle" textLength="631" lengthAdjust="spacing">Binding Energy (eV)</text>
<text transform="translate(77.1,708.2) rotate(-90)" font-size="72.8" font-weight="bold" text-anchor="middle">Intensity (a.u.)</text>
<text x="380.6" y="970.9" font-size="72.3">Pt/TiO<tspan font-size="48" dy="18.5">2</tspan><tspan dy="-18.5">(IM)-SH</tspan></text>
<text x="386.3" y="1278.2" font-size="72.5">Pt/TiO<tspan font-size="48" dy="18.5">2</tspan><tspan dy="-18.5">(IM)</tspan></text>
<g><text transform="translate(885.85,205.96) scale(0.6951,0.7591)" font-size="100" stroke="#000" stroke-width="2.20" stroke-linejoin="round">S</text><text transform="translate(922.52,206.93) scale(0.5072,0.7859)" font-size="100" font-weight="bold">O</text><text transform="translate(960.23,225.11) scale(0.4745,0.5046)" font-size="100" stroke="#000" stroke-width="3.27" stroke-linejoin="round">3</text><text transform="translate(984.63,176.70) scale(0.4939,0.5165)" font-size="100" stroke="#000" stroke-width="3.17" stroke-linejoin="round">2</text><text transform="translate(1007.55,188.23) scale(0.5115,0.8835)" font-size="100">−</text></g>
<g><text transform="translate(1501.25,518.86) scale(0.6951,0.7591)" font-size="100" stroke="#000" stroke-width="2.20" stroke-linejoin="round">S</text><text transform="translate(1537.92,519.83) scale(0.5072,0.7859)" font-size="100" font-weight="bold">O</text><text transform="translate(1575.66,539.30) scale(0.4819,0.5272)" font-size="100" stroke="#000" stroke-width="3.17" stroke-linejoin="round">4</text><text transform="translate(1600.03,489.60) scale(0.4939,0.5165)" font-size="100" stroke="#000" stroke-width="3.17" stroke-linejoin="round">2</text><text transform="translate(1622.95,501.13) scale(0.5115,0.8835)" font-size="100">−</text></g>
<g><text transform="translate(898.15,1173.06) scale(0.6951,0.7591)" font-size="100" stroke="#000" stroke-width="2.20" stroke-linejoin="round">S</text><text transform="translate(934.82,1174.03) scale(0.5072,0.7859)" font-size="100" font-weight="bold">O</text><text transform="translate(972.53,1192.21) scale(0.4745,0.5046)" font-size="100" stroke="#000" stroke-width="3.27" stroke-linejoin="round">3</text><text transform="translate(996.93,1143.80) scale(0.4939,0.5165)" font-size="100" stroke="#000" stroke-width="3.17" stroke-linejoin="round">2</text><text transform="translate(1019.85,1155.33) scale(0.5115,0.8835)" font-size="100">−</text></g>
<g><text transform="translate(1469.05,1212.96) scale(0.6951,0.7591)" font-size="100" stroke="#000" stroke-width="2.20" stroke-linejoin="round">S</text><text transform="translate(1505.72,1213.93) scale(0.5072,0.7859)" font-size="100" font-weight="bold">O</text><text transform="translate(1543.46,1233.40) scale(0.4819,0.5272)" font-size="100" stroke="#000" stroke-width="3.17" stroke-linejoin="round">4</text><text transform="translate(1567.83,1183.70) scale(0.4939,0.5165)" font-size="100" stroke="#000" stroke-width="3.17" stroke-linejoin="round">2</text><text transform="translate(1590.75,1195.23) scale(0.5115,0.8835)" font-size="100">−</text></g>
</g>
</svg>
</body></html>
